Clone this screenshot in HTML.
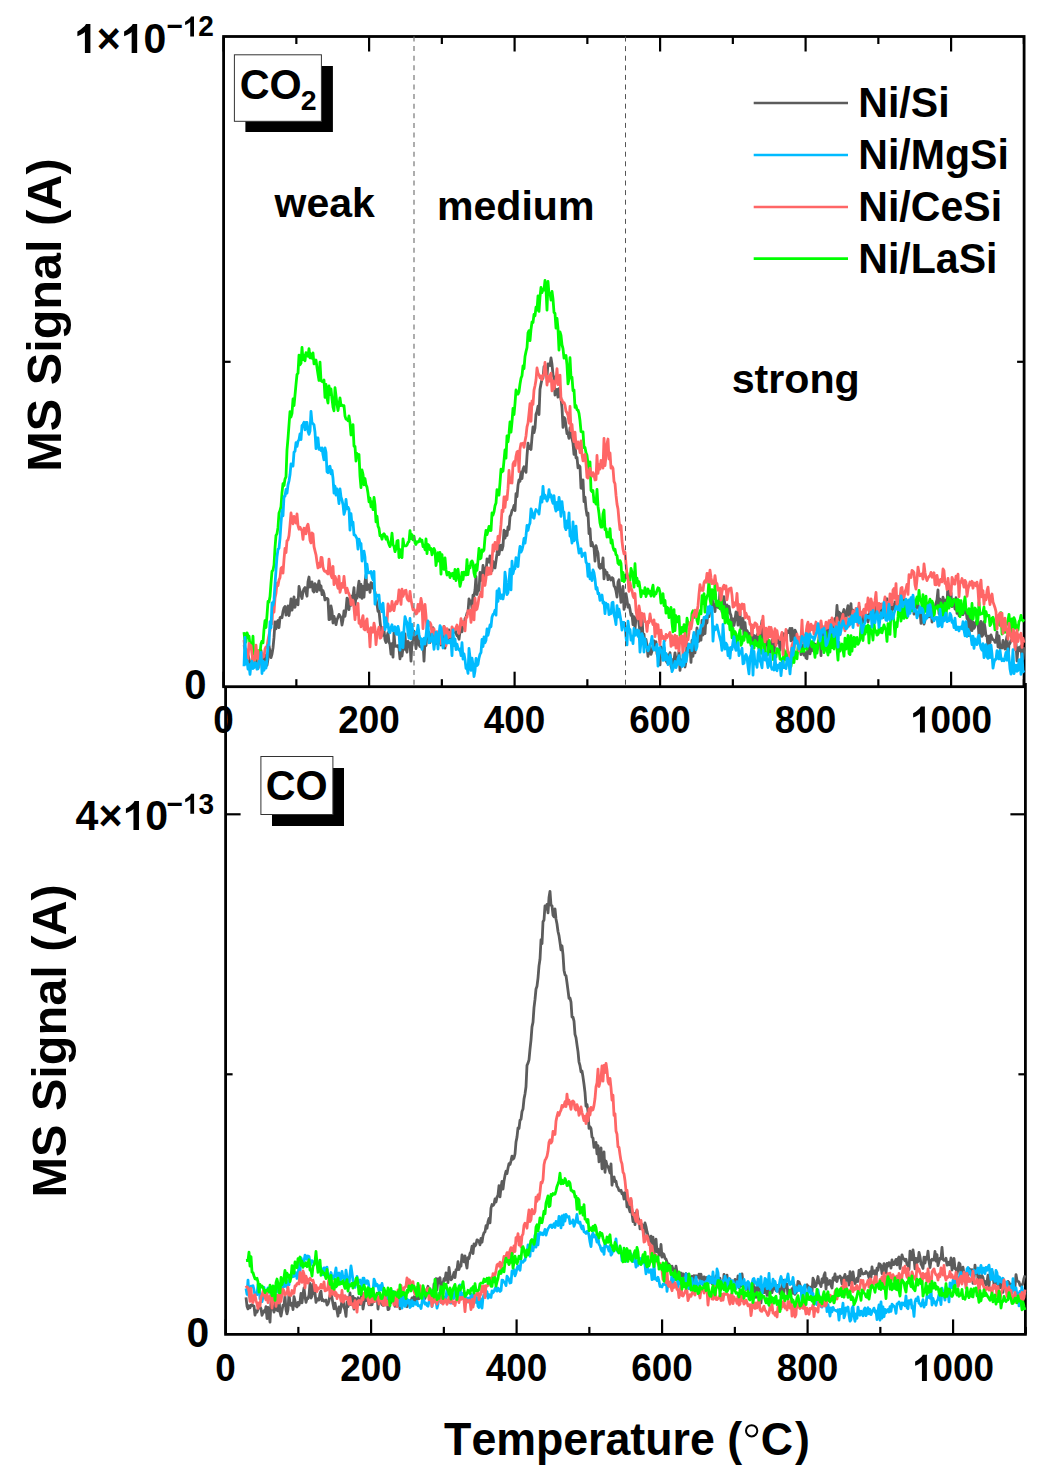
<!DOCTYPE html><html><head><meta charset="utf-8"><style>html,body{margin:0;padding:0;background:#fff;overflow:hidden}svg{display:block}text{font-kerning:none}</style></head><body>
<svg width="1050" height="1481" viewBox="0 0 1050 1481">
<rect width="1050" height="1481" fill="#fff"/>
<g stroke="#000" stroke-width="2.8" fill="none">
<rect x="223.6" y="36.5" width="800.5" height="650.2"/>
<path d="M225.6,686 V1334.4 H1025.4 V683"/>
</g>
<defs><clipPath id="ct"><rect x="222" y="35" width="805" height="653"/></clipPath><clipPath id="cb"><rect x="224" y="686" width="804" height="651"/></clipPath></defs>
<g clip-path="url(#ct)">
<path d="M244.0,645.2 245.0,648.8 246.0,649.7 247.0,657.4 248.0,655.3 249.0,658.7 250.0,664.2 251.0,665.1 252.0,663.5 253.0,658.4 254.0,656.9 255.0,656.8 256.0,659.9 257.0,661.7 258.0,656.0 259.0,655.0 260.0,663.9 261.0,650.5 262.0,660.9 263.0,664.6 264.0,655.9 265.0,655.1 266.0,657.3 267.0,665.4 268.0,658.9 269.0,645.7 270.0,651.8 271.0,657.5 272.0,654.1 273.0,648.0 274.0,637.4 275.0,621.8 276.0,628.8 277.0,622.0 278.0,620.5 279.0,627.7 280.0,617.6 281.0,616.9 282.0,617.7 283.0,611.4 284.0,607.9 285.0,606.5 286.0,615.1 287.0,612.7 288.0,605.9 289.0,615.5 290.0,608.9 291.0,598.8 292.0,610.2 293.0,604.9 294.0,596.8 295.0,607.3 296.0,601.1 297.0,599.8 298.0,604.8 299.0,586.5 300.0,591.1 301.0,595.3 302.0,598.5 303.0,591.8 304.0,588.8 305.0,587.5 306.0,592.3 307.0,596.2 308.0,581.9 309.0,577.0 310.0,587.1 311.0,585.8 312.0,581.9 313.0,590.9 314.0,592.0 315.0,583.6 316.0,585.3 317.0,591.5 318.0,586.0 319.0,580.8 320.0,590.0 321.0,585.9 322.0,594.6 323.0,590.7 324.0,593.8 325.0,599.9 326.0,598.4 327.0,598.3 328.0,599.3 329.0,619.7 330.0,619.2 331.0,606.0 332.0,611.3 333.0,623.0 334.0,616.4 335.0,620.0 336.0,624.6 337.0,619.8 338.0,617.4 339.0,614.4 340.0,615.8 341.0,617.7 342.0,625.0 343.0,619.7 344.0,610.8 345.0,616.4 346.0,609.9 347.0,598.2 348.0,604.8 349.0,609.7 350.0,597.8 351.0,605.4 352.0,595.9 353.0,596.4 354.0,587.6 355.0,606.8 356.0,595.8 357.0,598.2 358.0,588.3 359.0,581.2 360.0,597.0 361.0,584.4 362.0,598.4 363.0,586.5 364.0,597.1 365.0,581.9 366.0,575.0 367.0,589.8 368.0,584.7 369.0,585.0 370.0,592.3 371.0,582.6 372.0,583.3 373.0,587.9 374.0,588.9 375.0,592.2 376.0,599.0 377.0,604.4 378.0,611.3 379.0,610.5 380.0,621.0 381.0,630.4 382.0,628.0 383.0,635.3 384.0,629.9 385.0,639.7 386.0,642.5 387.0,636.9 388.0,632.6 389.0,642.1 390.0,644.3 391.0,654.1 392.0,643.7 393.0,657.1 394.0,632.9 395.0,646.3 396.0,645.6 397.0,646.5 398.0,645.6 399.0,648.6 400.0,658.9 401.0,647.8 402.0,656.1 403.0,648.1 404.0,649.3 405.0,634.0 406.0,649.0 407.0,652.2 408.0,641.4 409.0,644.5 410.0,642.9 411.0,661.1 412.0,642.0 413.0,643.4 414.0,631.1 415.0,637.9 416.0,648.6 417.0,639.3 418.0,629.8 419.0,644.6 420.0,646.6 421.0,647.1 422.0,647.3 423.0,640.8 424.0,661.2 425.0,640.1 426.0,645.7 427.0,634.8 428.0,638.3 429.0,632.3 430.0,642.6 431.0,638.3 432.0,634.2 433.0,627.6 434.0,642.8 435.0,643.9 436.0,643.6 437.0,637.5 438.0,641.8 439.0,642.7 440.0,639.9 441.0,645.2 442.0,635.1 443.0,637.1 444.0,626.3 445.0,648.2 446.0,630.7 447.0,637.1 448.0,638.9 449.0,630.0 450.0,634.6 451.0,638.9 452.0,634.0 453.0,632.6 454.0,632.3 455.0,629.7 456.0,632.8 457.0,635.8 458.0,636.0 459.0,639.2 460.0,631.4 461.0,625.9 462.0,631.8 463.0,625.9 464.0,626.8 465.0,618.6 466.0,617.4 467.0,613.3 468.0,612.2 469.0,598.9 470.0,601.7 471.0,601.2 472.0,608.3 473.0,595.1 474.0,596.1 475.0,590.0 476.0,576.3 477.0,594.5 478.0,588.9 479.0,590.3 480.0,572.4 481.0,580.5 482.0,578.0 483.0,565.5 484.0,576.3 485.0,568.1 486.0,573.3 487.0,558.8 488.0,562.2 489.0,562.1 490.0,555.8 491.0,564.3 492.0,570.8 493.0,561.5 494.0,564.2 495.0,568.0 496.0,560.9 497.0,553.7 498.0,542.5 499.0,554.6 500.0,548.4 501.0,545.2 502.0,549.9 503.0,546.1 504.0,530.1 505.0,538.2 506.0,531.5 507.0,535.5 508.0,526.9 509.0,529.4 510.0,516.4 511.0,514.8 512.0,510.5 513.0,509.3 514.0,505.5 515.0,510.7 516.0,493.7 517.0,496.6 518.0,485.3 519.0,479.8 520.0,481.3 521.0,472.0 522.0,478.6 523.0,469.3 524.0,466.8 525.0,469.3 526.0,472.3 527.0,455.8 528.0,443.1 529.0,448.7 530.0,446.9 531.0,449.5 532.0,437.4 533.0,427.0 534.0,432.6 535.0,427.9 536.0,414.2 537.0,411.4 538.0,406.2 539.0,414.5 540.0,389.2 541.0,383.8 542.0,379.2 543.0,378.0 544.0,366.7 545.0,368.2 546.0,369.3 547.0,376.1 548.0,363.8 549.0,364.0 550.0,365.5 551.0,358.0 552.0,364.3 553.0,374.9 554.0,377.5 555.0,395.1 556.0,389.6 557.0,389.5 558.0,397.2 559.0,388.6 560.0,394.2 561.0,398.6 562.0,407.8 563.0,427.4 564.0,417.3 565.0,418.8 566.0,426.2 567.0,433.7 568.0,433.9 569.0,438.4 570.0,427.9 571.0,432.2 572.0,438.6 573.0,443.3 574.0,454.3 575.0,441.8 576.0,457.9 577.0,457.4 578.0,467.8 579.0,465.5 580.0,466.6 581.0,488.1 582.0,488.3 583.0,479.9 584.0,501.7 585.0,497.2 586.0,508.8 587.0,515.4 588.0,513.1 589.0,533.7 590.0,528.5 591.0,545.9 592.0,542.4 593.0,546.0 594.0,547.7 595.0,561.2 596.0,545.6 597.0,549.8 598.0,553.1 599.0,566.7 600.0,568.3 601.0,564.5 602.0,567.7 603.0,557.8 604.0,578.9 605.0,570.0 606.0,573.6 607.0,572.4 608.0,579.7 609.0,575.6 610.0,578.9 611.0,580.0 612.0,577.6 613.0,578.3 614.0,585.9 615.0,587.3 616.0,591.0 617.0,597.0 618.0,582.0 619.0,579.8 620.0,590.3 621.0,602.3 622.0,595.8 623.0,586.5 624.0,609.4 625.0,604.3 626.0,593.7 627.0,599.6 628.0,607.2 629.0,604.9 630.0,609.4 631.0,615.3 632.0,614.0 633.0,624.6 634.0,616.7 635.0,629.2 636.0,618.4 637.0,617.0 638.0,613.6 639.0,623.7 640.0,632.2 641.0,640.0 642.0,615.1 643.0,638.1 644.0,634.0 645.0,645.7 646.0,639.5 647.0,645.8 648.0,656.3 649.0,647.0 650.0,646.3 651.0,654.4 652.0,651.0 653.0,648.8 654.0,640.8 655.0,649.2 656.0,641.7 657.0,653.7 658.0,656.4 659.0,653.6 660.0,664.9 661.0,646.8 662.0,656.7 663.0,654.6 664.0,647.4 665.0,658.0 666.0,660.4 667.0,662.5 668.0,654.9 669.0,660.2 670.0,652.7 671.0,666.5 672.0,668.9 673.0,659.4 674.0,660.3 675.0,652.8 676.0,659.8 677.0,657.6 678.0,661.4 679.0,651.2 680.0,670.4 681.0,660.0 682.0,664.8 683.0,660.3 684.0,654.4 685.0,667.0 686.0,661.0 687.0,643.9 688.0,651.9 689.0,649.6 690.0,645.1 691.0,662.4 692.0,640.5 693.0,656.3 694.0,635.1 695.0,652.9 696.0,639.8 697.0,627.8 698.0,641.7 699.0,641.2 700.0,630.4 701.0,640.2 702.0,620.4 703.0,635.0 704.0,628.9 705.0,633.6 706.0,617.6 707.0,623.0 708.0,611.0 709.0,616.7 710.0,610.3 711.0,611.1 712.0,596.2 713.0,605.7 714.0,604.4 715.0,611.5 716.0,600.4 717.0,601.9 718.0,607.5 719.0,607.5 720.0,589.4 721.0,604.0 722.0,611.8 723.0,605.2 724.0,596.7 725.0,606.8 726.0,609.7 727.0,604.9 728.0,612.5 729.0,606.3 730.0,612.9 731.0,615.6 732.0,627.0 733.0,619.0 734.0,625.4 735.0,619.6 736.0,611.9 737.0,612.5 738.0,625.2 739.0,611.3 740.0,612.2 741.0,628.6 742.0,619.1 743.0,618.3 744.0,636.9 745.0,622.7 746.0,633.2 747.0,630.6 748.0,632.8 749.0,633.3 750.0,640.2 751.0,643.9 752.0,629.7 753.0,645.6 754.0,635.5 755.0,636.4 756.0,642.2 757.0,635.2 758.0,633.3 759.0,648.8 760.0,636.4 761.0,627.3 762.0,620.6 763.0,643.3 764.0,640.8 765.0,652.8 766.0,635.4 767.0,635.5 768.0,643.5 769.0,651.8 770.0,652.5 771.0,644.1 772.0,640.0 773.0,644.6 774.0,652.6 775.0,642.0 776.0,638.7 777.0,643.1 778.0,640.5 779.0,638.9 780.0,650.1 781.0,640.6 782.0,636.8 783.0,633.6 784.0,633.8 785.0,638.3 786.0,639.4 787.0,630.8 788.0,631.2 789.0,632.6 790.0,628.4 791.0,640.8 792.0,628.5 793.0,635.3 794.0,641.1 795.0,630.2 796.0,632.4 797.0,638.5 798.0,644.3 799.0,644.2 800.0,645.3 801.0,654.5 802.0,645.0 803.0,645.8 804.0,655.1 805.0,652.6 806.0,657.9 807.0,658.7 808.0,644.9 809.0,638.3 810.0,653.9 811.0,649.4 812.0,650.5 813.0,642.2 814.0,651.6 815.0,644.1 816.0,647.8 817.0,648.8 818.0,642.8 819.0,640.5 820.0,635.9 821.0,655.7 822.0,629.8 823.0,641.5 824.0,626.9 825.0,630.1 826.0,642.8 827.0,628.6 828.0,638.6 829.0,628.7 830.0,635.4 831.0,620.3 832.0,621.1 833.0,636.1 834.0,628.1 835.0,618.5 836.0,620.8 837.0,605.5 838.0,619.5 839.0,612.2 840.0,613.4 841.0,627.7 842.0,614.2 843.0,613.0 844.0,609.5 845.0,620.2 846.0,619.3 847.0,610.7 848.0,605.6 849.0,614.6 850.0,616.7 851.0,603.6 852.0,622.9 853.0,610.2 854.0,616.4 855.0,611.0 856.0,611.1 857.0,621.5 858.0,616.4 859.0,606.4 860.0,617.9 861.0,620.8 862.0,614.6 863.0,622.0 864.0,609.4 865.0,620.6 866.0,615.7 867.0,614.9 868.0,621.9 869.0,617.2 870.0,610.5 871.0,615.0 872.0,607.2 873.0,614.1 874.0,618.6 875.0,617.6 876.0,605.5 877.0,608.0 878.0,613.2 879.0,612.6 880.0,604.1 881.0,609.9 882.0,610.7 883.0,617.5 884.0,609.3 885.0,607.2 886.0,600.7 887.0,598.7 888.0,612.7 889.0,607.1 890.0,603.6 891.0,612.1 892.0,608.8 893.0,604.7 894.0,609.3 895.0,601.8 896.0,608.1 897.0,605.3 898.0,599.7 899.0,599.3 900.0,596.5 901.0,606.1 902.0,599.4 903.0,593.6 904.0,604.3 905.0,603.1 906.0,601.0 907.0,603.3 908.0,601.0 909.0,601.1 910.0,611.3 911.0,600.1 912.0,598.3 913.0,600.1 914.0,614.1 915.0,602.6 916.0,608.0 917.0,605.6 918.0,604.2 919.0,609.8 920.0,610.3 921.0,623.4 922.0,609.5 923.0,613.3 924.0,624.2 925.0,620.5 926.0,615.6 927.0,617.3 928.0,611.5 929.0,616.8 930.0,613.2 931.0,606.4 932.0,622.0 933.0,611.2 934.0,614.6 935.0,607.8 936.0,603.3 937.0,599.7 938.0,590.0 939.0,613.8 940.0,599.1 941.0,605.9 942.0,608.0 943.0,597.2 944.0,601.4 945.0,605.1 946.0,599.8 947.0,603.7 948.0,583.4 949.0,603.6 950.0,605.7 951.0,592.8 952.0,606.7 953.0,600.7 954.0,602.8 955.0,609.0 956.0,597.7 957.0,613.3 958.0,605.1 959.0,615.5 960.0,611.3 961.0,614.5 962.0,608.8 963.0,614.7 964.0,608.8 965.0,612.8 966.0,609.4 967.0,618.7 968.0,614.0 969.0,635.6 970.0,616.6 971.0,609.6 972.0,630.6 973.0,622.2 974.0,628.3 975.0,626.3 976.0,621.7 977.0,623.5 978.0,621.1 979.0,637.2 980.0,633.1 981.0,621.5 982.0,636.3 983.0,634.6 984.0,621.6 985.0,627.4 986.0,635.8 987.0,635.9 988.0,647.8 989.0,636.1 990.0,642.9 991.0,635.0 992.0,638.1 993.0,639.7 994.0,640.0 995.0,642.3 996.0,642.1 997.0,632.0 998.0,646.8 999.0,635.8 1000.0,648.3 1001.0,647.5 1002.0,648.1 1003.0,640.4 1004.0,646.2 1005.0,649.1 1006.0,641.7 1007.0,636.2 1008.0,656.3 1009.0,644.6 1010.0,643.3 1011.0,640.6 1012.0,639.5 1013.0,630.9 1014.0,641.2 1015.0,641.5 1016.0,643.2 1017.0,661.0 1018.0,648.7 1019.0,647.4 1020.0,650.7 1021.0,645.8 1022.0,659.1 1023.0,659.1 1024.0,647.2" fill="none" stroke="#5c5c5c" stroke-width="2.8" stroke-linejoin="round"/>
<path d="M244.0,632.2 245.0,641.6 246.0,642.0 247.0,632.8 248.0,635.7 249.0,636.0 250.0,644.6 251.0,642.7 252.0,649.6 253.0,636.2 254.0,660.7 255.0,653.2 256.0,659.2 257.0,653.6 258.0,650.6 259.0,653.6 260.0,653.1 261.0,643.8 262.0,641.1 263.0,642.9 264.0,629.3 265.0,620.7 266.0,627.5 267.0,615.3 268.0,601.5 269.0,602.0 270.0,596.6 271.0,583.2 272.0,571.3 273.0,570.3 274.0,565.0 275.0,547.8 276.0,535.4 277.0,533.8 278.0,527.4 279.0,513.0 280.0,510.5 281.0,506.5 282.0,492.6 283.0,483.6 284.0,485.6 285.0,479.0 286.0,476.8 287.0,449.8 288.0,438.3 289.0,424.8 290.0,411.6 291.0,417.0 292.0,413.3 293.0,399.0 294.0,405.7 295.0,395.1 296.0,384.3 297.0,374.5 298.0,373.1 299.0,355.1 300.0,364.8 301.0,363.3 302.0,347.4 303.0,359.6 304.0,355.1 305.0,360.8 306.0,352.6 307.0,354.6 308.0,356.3 309.0,348.6 310.0,357.9 311.0,354.0 312.0,358.3 313.0,352.8 314.0,363.9 315.0,362.6 316.0,360.0 317.0,367.6 318.0,374.3 319.0,380.4 320.0,362.2 321.0,380.5 322.0,381.5 323.0,381.9 324.0,380.0 325.0,397.4 326.0,384.5 327.0,397.5 328.0,403.0 329.0,385.8 330.0,394.5 331.0,388.8 332.0,398.9 333.0,407.2 334.0,410.8 335.0,387.7 336.0,395.7 337.0,404.4 338.0,410.6 339.0,404.2 340.0,397.9 341.0,405.5 342.0,404.9 343.0,405.9 344.0,405.7 345.0,416.1 346.0,419.1 347.0,419.4 348.0,420.8 349.0,415.9 350.0,422.6 351.0,435.0 352.0,428.8 353.0,424.6 354.0,446.3 355.0,446.3 356.0,461.1 357.0,453.5 358.0,455.6 359.0,454.6 360.0,476.2 361.0,487.6 362.0,470.0 363.0,474.2 364.0,484.8 365.0,478.7 366.0,484.9 367.0,487.1 368.0,493.3 369.0,501.8 370.0,498.2 371.0,506.9 372.0,501.8 373.0,509.6 374.0,497.5 375.0,504.9 376.0,521.8 377.0,516.1 378.0,526.1 379.0,528.4 380.0,535.7 381.0,535.2 382.0,539.2 383.0,534.8 384.0,533.7 385.0,535.7 386.0,539.2 387.0,536.7 388.0,541.3 389.0,544.4 390.0,546.6 391.0,542.9 392.0,533.1 393.0,544.6 394.0,546.4 395.0,551.7 396.0,548.6 397.0,541.0 398.0,540.5 399.0,557.5 400.0,549.6 401.0,556.1 402.0,557.6 403.0,538.9 404.0,545.8 405.0,545.7 406.0,545.8 407.0,545.1 408.0,542.4 409.0,541.6 410.0,530.7 411.0,538.6 412.0,534.7 413.0,539.9 414.0,536.1 415.0,542.9 416.0,544.4 417.0,541.6 418.0,542.2 419.0,541.5 420.0,538.8 421.0,541.4 422.0,540.2 423.0,546.6 424.0,545.3 425.0,549.8 426.0,538.9 427.0,553.7 428.0,544.4 429.0,545.4 430.0,549.7 431.0,548.4 432.0,554.8 433.0,550.5 434.0,548.5 435.0,551.1 436.0,565.6 437.0,558.9 438.0,552.6 439.0,561.0 440.0,552.4 441.0,574.2 442.0,554.6 443.0,568.0 444.0,569.3 445.0,557.9 446.0,569.7 447.0,575.0 448.0,572.7 449.0,572.4 450.0,577.6 451.0,573.6 452.0,575.5 453.0,573.3 454.0,578.7 455.0,569.4 456.0,580.6 457.0,572.8 458.0,569.2 459.0,578.2 460.0,586.4 461.0,581.7 462.0,572.3 463.0,579.6 464.0,572.2 465.0,573.9 466.0,574.9 467.0,559.6 468.0,574.7 469.0,566.6 470.0,567.9 471.0,562.2 472.0,560.9 473.0,563.3 474.0,573.0 475.0,576.9 476.0,564.9 477.0,570.3 478.0,560.4 479.0,548.3 480.0,558.9 481.0,558.2 482.0,549.9 483.0,551.4 484.0,549.9 485.0,537.6 486.0,530.3 487.0,534.6 488.0,531.1 489.0,526.3 490.0,530.4 491.0,530.6 492.0,512.8 493.0,515.1 494.0,511.9 495.0,505.8 496.0,503.1 497.0,489.6 498.0,491.9 499.0,495.2 500.0,482.8 501.0,469.2 502.0,471.9 503.0,471.0 504.0,460.6 505.0,449.9 506.0,458.1 507.0,435.9 508.0,441.9 509.0,433.9 510.0,421.9 511.0,432.2 512.0,422.2 513.0,408.3 514.0,414.7 515.0,403.7 516.0,390.0 517.0,392.9 518.0,394.2 519.0,391.7 520.0,384.0 521.0,378.3 522.0,375.7 523.0,365.8 524.0,368.7 525.0,356.5 526.0,351.6 527.0,347.7 528.0,332.8 529.0,330.6 530.0,340.5 531.0,329.4 532.0,322.0 533.0,322.6 534.0,314.3 535.0,315.9 536.0,307.1 537.0,310.1 538.0,295.9 539.0,311.3 540.0,297.0 541.0,287.3 542.0,292.7 543.0,289.1 544.0,290.0 545.0,280.5 546.0,289.5 547.0,310.1 548.0,281.5 549.0,294.1 550.0,293.3 551.0,300.0 552.0,291.3 553.0,298.9 554.0,312.5 555.0,313.4 556.0,328.2 557.0,318.3 558.0,328.5 559.0,350.2 560.0,332.0 561.0,335.4 562.0,344.8 563.0,348.7 564.0,358.0 565.0,357.3 566.0,355.5 567.0,365.2 568.0,383.9 569.0,379.1 570.0,357.7 571.0,377.9 572.0,377.3 573.0,390.7 574.0,389.9 575.0,407.3 576.0,405.5 577.0,409.8 578.0,410.0 579.0,413.4 580.0,420.6 581.0,431.5 582.0,432.0 583.0,431.8 584.0,447.7 585.0,447.5 586.0,452.7 587.0,455.3 588.0,463.5 589.0,469.5 590.0,461.9 591.0,490.3 592.0,491.6 593.0,490.5 594.0,501.9 595.0,501.4 596.0,504.1 597.0,489.4 598.0,506.2 599.0,513.6 600.0,523.0 601.0,527.1 602.0,527.2 603.0,513.8 604.0,510.0 605.0,529.7 606.0,528.8 607.0,537.0 608.0,532.6 609.0,537.0 610.0,528.6 611.0,543.0 612.0,539.8 613.0,547.1 614.0,550.3 615.0,549.3 616.0,554.7 617.0,555.5 618.0,563.2 619.0,564.4 620.0,560.6 621.0,563.2 622.0,580.7 623.0,572.3 624.0,581.7 625.0,579.8 626.0,574.5 627.0,573.2 628.0,578.2 629.0,578.6 630.0,580.3 631.0,568.3 632.0,572.3 633.0,575.7 634.0,587.1 635.0,563.7 636.0,582.6 637.0,578.2 638.0,585.9 639.0,581.7 640.0,588.3 641.0,596.9 642.0,590.7 643.0,592.5 644.0,593.4 645.0,587.6 646.0,596.5 647.0,592.5 648.0,589.0 649.0,593.4 650.0,591.3 651.0,596.1 652.0,589.7 653.0,585.2 654.0,596.3 655.0,592.5 656.0,593.9 657.0,590.5 658.0,587.8 659.0,588.5 660.0,592.4 661.0,603.1 662.0,600.7 663.0,593.6 664.0,605.7 665.0,600.4 666.0,613.2 667.0,607.1 668.0,608.2 669.0,617.5 670.0,616.8 671.0,607.4 672.0,622.7 673.0,631.8 674.0,609.6 675.0,630.6 676.0,615.7 677.0,618.1 678.0,622.0 679.0,616.4 680.0,635.8 681.0,633.2 682.0,627.4 683.0,631.8 684.0,624.6 685.0,631.2 686.0,637.3 687.0,618.2 688.0,623.1 689.0,623.6 690.0,626.2 691.0,625.8 692.0,613.2 693.0,610.7 694.0,617.6 695.0,612.1 696.0,612.1 697.0,620.4 698.0,623.8 699.0,614.4 700.0,610.8 701.0,613.8 702.0,595.6 703.0,603.6 704.0,593.6 705.0,612.2 706.0,600.5 707.0,596.4 708.0,593.9 709.0,579.2 710.0,598.9 711.0,604.4 712.0,589.6 713.0,598.3 714.0,598.5 715.0,584.9 716.0,601.5 717.0,605.9 718.0,601.1 719.0,601.5 720.0,608.9 721.0,596.6 722.0,609.2 723.0,617.9 724.0,606.4 725.0,623.0 726.0,616.9 727.0,609.0 728.0,623.3 729.0,619.9 730.0,629.8 731.0,622.3 732.0,637.8 733.0,628.3 734.0,636.4 735.0,631.6 736.0,634.0 737.0,643.9 738.0,638.3 739.0,634.9 740.0,630.0 741.0,645.3 742.0,642.9 743.0,636.6 744.0,640.4 745.0,632.7 746.0,633.1 747.0,634.6 748.0,642.2 749.0,642.2 750.0,636.0 751.0,645.5 752.0,646.1 753.0,642.6 754.0,648.3 755.0,640.4 756.0,641.8 757.0,645.7 758.0,643.0 759.0,648.5 760.0,636.2 761.0,653.3 762.0,640.2 763.0,644.7 764.0,637.8 765.0,650.8 766.0,655.7 767.0,655.2 768.0,654.5 769.0,640.4 770.0,645.9 771.0,648.5 772.0,646.2 773.0,659.5 774.0,654.2 775.0,653.5 776.0,657.1 777.0,648.7 778.0,649.5 779.0,650.1 780.0,659.1 781.0,658.6 782.0,660.6 783.0,664.2 784.0,649.6 785.0,655.1 786.0,659.9 787.0,651.1 788.0,656.4 789.0,666.2 790.0,666.8 791.0,666.3 792.0,659.0 793.0,656.1 794.0,662.5 795.0,651.7 796.0,654.3 797.0,658.8 798.0,647.0 799.0,644.6 800.0,647.9 801.0,651.7 802.0,651.0 803.0,649.0 804.0,651.4 805.0,638.1 806.0,642.7 807.0,649.0 808.0,642.2 809.0,639.7 810.0,640.5 811.0,642.3 812.0,646.9 813.0,641.5 814.0,648.8 815.0,657.3 816.0,645.1 817.0,653.2 818.0,646.4 819.0,637.2 820.0,642.4 821.0,638.0 822.0,648.9 823.0,637.2 824.0,652.7 825.0,648.3 826.0,632.5 827.0,650.1 828.0,655.1 829.0,640.8 830.0,652.0 831.0,634.8 832.0,647.6 833.0,635.7 834.0,649.0 835.0,634.9 836.0,629.7 837.0,648.5 838.0,660.2 839.0,642.3 840.0,651.1 841.0,646.7 842.0,644.0 843.0,649.8 844.0,656.2 845.0,638.2 846.0,649.0 847.0,647.1 848.0,635.5 849.0,653.5 850.0,654.6 851.0,635.6 852.0,651.2 853.0,639.7 854.0,637.3 855.0,646.6 856.0,637.8 857.0,637.5 858.0,644.3 859.0,642.3 860.0,639.5 861.0,625.1 862.0,623.9 863.0,640.5 864.0,627.6 865.0,634.2 866.0,626.5 867.0,631.9 868.0,625.0 869.0,643.0 870.0,626.5 871.0,631.9 872.0,631.4 873.0,640.0 874.0,623.5 875.0,632.0 876.0,630.7 877.0,635.1 878.0,634.4 879.0,628.3 880.0,632.3 881.0,628.1 882.0,632.8 883.0,628.8 884.0,624.9 885.0,628.2 886.0,630.1 887.0,641.3 888.0,623.6 889.0,627.9 890.0,634.4 891.0,611.8 892.0,613.2 893.0,615.9 894.0,621.7 895.0,636.6 896.0,622.9 897.0,626.9 898.0,616.9 899.0,601.9 900.0,601.6 901.0,621.1 902.0,614.8 903.0,604.5 904.0,618.4 905.0,600.9 906.0,616.6 907.0,617.7 908.0,603.3 909.0,600.5 910.0,611.9 911.0,599.2 912.0,610.6 913.0,597.2 914.0,609.0 915.0,604.0 916.0,600.3 917.0,597.0 918.0,603.7 919.0,590.3 920.0,600.3 921.0,599.6 922.0,606.4 923.0,594.6 924.0,613.2 925.0,601.0 926.0,596.2 927.0,612.2 928.0,614.3 929.0,603.2 930.0,599.2 931.0,605.2 932.0,601.1 933.0,603.7 934.0,615.5 935.0,608.4 936.0,606.9 937.0,608.1 938.0,605.5 939.0,610.9 940.0,610.9 941.0,603.0 942.0,605.7 943.0,619.7 944.0,607.1 945.0,603.2 946.0,616.9 947.0,604.1 948.0,597.2 949.0,608.2 950.0,598.4 951.0,600.9 952.0,606.0 953.0,603.2 954.0,599.3 955.0,600.6 956.0,600.3 957.0,611.2 958.0,599.5 959.0,600.5 960.0,616.6 961.0,600.6 962.0,613.5 963.0,612.8 964.0,604.2 965.0,596.8 966.0,609.1 967.0,611.1 968.0,613.6 969.0,608.7 970.0,616.3 971.0,618.1 972.0,603.5 973.0,619.4 974.0,612.1 975.0,608.0 976.0,610.0 977.0,624.1 978.0,619.0 979.0,602.3 980.0,614.4 981.0,613.5 982.0,613.8 983.0,612.3 984.0,607.0 985.0,622.0 986.0,611.6 987.0,615.9 988.0,615.4 989.0,615.5 990.0,625.5 991.0,624.1 992.0,618.3 993.0,617.2 994.0,620.7 995.0,629.9 996.0,624.8 997.0,625.4 998.0,622.0 999.0,622.4 1000.0,625.3 1001.0,612.6 1002.0,634.0 1003.0,619.1 1004.0,620.5 1005.0,632.3 1006.0,625.4 1007.0,624.3 1008.0,620.4 1009.0,614.3 1010.0,625.2 1011.0,631.6 1012.0,618.8 1013.0,633.0 1014.0,617.7 1015.0,620.4 1016.0,628.4 1017.0,625.5 1018.0,630.1 1019.0,621.5 1020.0,620.1 1021.0,615.3 1022.0,619.8 1023.0,620.9 1024.0,619.2" fill="none" stroke="#00ff00" stroke-width="2.8" stroke-linejoin="round"/>
<path d="M244.0,640.0 245.0,649.0 246.0,649.4 247.0,651.5 248.0,659.0 249.0,643.3 250.0,648.5 251.0,645.5 252.0,654.2 253.0,662.0 254.0,656.3 255.0,659.9 256.0,645.2 257.0,657.8 258.0,651.1 259.0,667.3 260.0,661.3 261.0,661.0 262.0,653.9 263.0,657.2 264.0,656.4 265.0,649.1 266.0,646.9 267.0,647.0 268.0,640.0 269.0,634.9 270.0,630.7 271.0,621.3 272.0,623.8 273.0,602.8 274.0,612.1 275.0,597.9 276.0,593.3 277.0,583.2 278.0,585.6 279.0,579.9 280.0,577.7 281.0,568.2 282.0,567.2 283.0,573.1 284.0,559.5 285.0,548.5 286.0,552.6 287.0,540.6 288.0,540.0 289.0,535.6 290.0,525.5 291.0,513.0 292.0,520.5 293.0,523.9 294.0,516.4 295.0,520.2 296.0,523.1 297.0,513.9 298.0,525.6 299.0,529.2 300.0,527.2 301.0,529.3 302.0,530.5 303.0,539.4 304.0,528.2 305.0,528.6 306.0,533.9 307.0,526.3 308.0,524.2 309.0,530.3 310.0,540.2 311.0,542.9 312.0,533.0 313.0,533.8 314.0,546.7 315.0,550.8 316.0,554.8 317.0,562.1 318.0,567.9 319.0,563.4 320.0,567.0 321.0,557.3 322.0,557.6 323.0,567.1 324.0,570.4 325.0,571.4 326.0,571.2 327.0,573.1 328.0,574.1 329.0,559.1 330.0,566.6 331.0,575.3 332.0,577.7 333.0,566.3 334.0,584.6 335.0,576.3 336.0,579.2 337.0,583.9 338.0,588.3 339.0,576.1 340.0,592.3 341.0,587.6 342.0,583.3 343.0,587.3 344.0,576.3 345.0,586.7 346.0,592.8 347.0,588.2 348.0,591.7 349.0,594.1 350.0,596.8 351.0,604.6 352.0,600.0 353.0,600.7 354.0,607.9 355.0,619.6 356.0,606.9 357.0,614.3 358.0,603.4 359.0,623.3 360.0,620.8 361.0,626.8 362.0,619.9 363.0,615.6 364.0,629.2 365.0,630.0 366.0,621.4 367.0,618.9 368.0,631.9 369.0,628.9 370.0,646.9 371.0,627.7 372.0,628.9 373.0,632.2 374.0,623.1 375.0,628.4 376.0,644.6 377.0,633.9 378.0,631.2 379.0,627.1 380.0,638.2 381.0,637.6 382.0,633.5 383.0,627.4 384.0,629.3 385.0,627.1 386.0,617.9 387.0,623.4 388.0,604.0 389.0,607.0 390.0,611.1 391.0,610.1 392.0,601.3 393.0,608.3 394.0,610.6 395.0,604.8 396.0,601.6 397.0,603.8 398.0,600.1 399.0,589.9 400.0,595.4 401.0,604.4 402.0,589.1 403.0,596.4 404.0,593.6 405.0,590.6 406.0,590.3 407.0,597.9 408.0,600.1 409.0,601.1 410.0,591.4 411.0,599.8 412.0,604.9 413.0,609.8 414.0,609.2 415.0,611.2 416.0,614.0 417.0,613.4 418.0,604.4 419.0,611.1 420.0,607.5 421.0,598.5 422.0,604.1 423.0,628.7 424.0,610.1 425.0,604.4 426.0,615.9 427.0,630.1 428.0,621.6 429.0,625.5 430.0,622.5 431.0,624.9 432.0,634.5 433.0,632.9 434.0,628.8 435.0,636.2 436.0,638.6 437.0,631.7 438.0,635.8 439.0,636.7 440.0,631.8 441.0,643.6 442.0,635.8 443.0,633.2 444.0,626.5 445.0,628.8 446.0,645.7 447.0,628.7 448.0,637.8 449.0,632.1 450.0,636.7 451.0,636.4 452.0,626.9 453.0,629.0 454.0,630.4 455.0,629.5 456.0,627.7 457.0,625.0 458.0,629.9 459.0,633.3 460.0,627.6 461.0,618.7 462.0,624.9 463.0,621.8 464.0,623.3 465.0,630.9 466.0,617.1 467.0,617.2 468.0,610.7 469.0,613.2 470.0,610.2 471.0,622.3 472.0,612.9 473.0,606.0 474.0,619.9 475.0,598.1 476.0,609.9 477.0,609.0 478.0,604.3 479.0,597.1 480.0,595.8 481.0,592.2 482.0,596.9 483.0,575.2 484.0,583.9 485.0,585.4 486.0,578.2 487.0,567.7 488.0,574.5 489.0,568.0 490.0,574.0 491.0,573.8 492.0,561.5 493.0,544.8 494.0,551.2 495.0,542.3 496.0,547.7 497.0,549.4 498.0,536.4 499.0,542.6 500.0,534.8 501.0,524.9 502.0,510.2 503.0,511.7 504.0,497.0 505.0,507.3 506.0,496.6 507.0,499.6 508.0,488.4 509.0,470.5 510.0,482.9 511.0,481.4 512.0,483.0 513.0,464.0 514.0,461.7 515.0,465.5 516.0,456.2 517.0,451.9 518.0,451.2 519.0,471.6 520.0,448.9 521.0,443.6 522.0,443.9 523.0,443.2 524.0,447.4 525.0,441.2 526.0,435.9 527.0,426.9 528.0,423.1 529.0,413.6 530.0,403.7 531.0,421.3 532.0,400.9 533.0,404.4 534.0,390.1 535.0,385.7 536.0,380.0 537.0,368.0 538.0,373.2 539.0,374.9 540.0,377.8 541.0,376.0 542.0,379.6 543.0,375.5 544.0,374.1 545.0,362.4 546.0,371.6 547.0,385.0 548.0,376.6 549.0,381.3 550.0,375.6 551.0,373.3 552.0,390.8 553.0,381.0 554.0,388.9 555.0,383.8 556.0,379.6 557.0,368.6 558.0,384.6 559.0,376.5 560.0,375.2 561.0,399.8 562.0,399.9 563.0,402.9 564.0,402.6 565.0,405.3 566.0,411.2 567.0,412.8 568.0,415.5 569.0,423.0 570.0,406.5 571.0,430.6 572.0,424.4 573.0,436.8 574.0,441.7 575.0,432.2 576.0,445.3 577.0,448.2 578.0,441.9 579.0,445.8 580.0,452.6 581.0,440.8 582.0,454.5 583.0,460.9 584.0,459.3 585.0,454.3 586.0,463.6 587.0,477.3 588.0,478.0 589.0,470.9 590.0,468.3 591.0,474.7 592.0,476.1 593.0,472.6 594.0,475.0 595.0,480.0 596.0,479.6 597.0,455.5 598.0,473.3 599.0,465.0 600.0,469.2 601.0,460.5 602.0,461.9 603.0,468.0 604.0,438.3 605.0,465.7 606.0,456.4 607.0,443.7 608.0,439.0 609.0,459.0 610.0,452.9 611.0,468.2 612.0,466.4 613.0,468.3 614.0,481.4 615.0,483.7 616.0,495.2 617.0,504.1 618.0,509.0 619.0,520.3 620.0,529.5 621.0,525.5 622.0,541.0 623.0,549.3 624.0,553.9 625.0,552.2 626.0,564.0 627.0,574.7 628.0,578.7 629.0,591.4 630.0,582.5 631.0,587.6 632.0,590.5 633.0,595.8 634.0,597.8 635.0,593.5 636.0,610.3 637.0,616.7 638.0,619.0 639.0,606.0 640.0,612.1 641.0,625.3 642.0,613.5 643.0,616.6 644.0,613.9 645.0,621.6 646.0,622.0 647.0,631.4 648.0,621.4 649.0,622.6 650.0,614.0 651.0,620.8 652.0,620.7 653.0,624.6 654.0,619.9 655.0,636.7 656.0,623.8 657.0,633.2 658.0,624.7 659.0,635.7 660.0,644.7 661.0,630.2 662.0,638.3 663.0,636.2 664.0,639.0 665.0,640.5 666.0,634.4 667.0,637.7 668.0,635.6 669.0,634.6 670.0,632.4 671.0,646.3 672.0,636.0 673.0,645.0 674.0,644.6 675.0,635.2 676.0,648.1 677.0,636.4 678.0,645.8 679.0,651.0 680.0,637.6 681.0,636.2 682.0,636.0 683.0,655.9 684.0,639.1 685.0,633.3 686.0,645.9 687.0,639.3 688.0,639.8 689.0,632.7 690.0,622.7 691.0,628.8 692.0,622.9 693.0,615.0 694.0,613.8 695.0,610.2 696.0,616.9 697.0,611.9 698.0,605.7 699.0,594.0 700.0,584.6 701.0,590.3 702.0,588.8 703.0,590.5 704.0,582.6 705.0,580.6 706.0,582.2 707.0,573.5 708.0,573.6 709.0,582.1 710.0,570.1 711.0,577.7 712.0,583.7 713.0,581.3 714.0,583.8 715.0,575.6 716.0,583.1 717.0,583.6 718.0,590.2 719.0,590.0 720.0,588.2 721.0,600.1 722.0,592.0 723.0,587.1 724.0,585.2 725.0,589.0 726.0,585.9 727.0,599.9 728.0,593.6 729.0,589.0 730.0,588.4 731.0,587.9 732.0,595.1 733.0,607.2 734.0,606.5 735.0,602.7 736.0,605.0 737.0,593.3 738.0,610.1 739.0,604.4 740.0,614.7 741.0,605.4 742.0,604.0 743.0,608.8 744.0,604.3 745.0,617.8 746.0,613.2 747.0,616.1 748.0,618.5 749.0,616.9 750.0,624.4 751.0,624.3 752.0,635.2 753.0,625.2 754.0,627.6 755.0,622.9 756.0,623.7 757.0,624.5 758.0,634.7 759.0,627.4 760.0,633.2 761.0,625.8 762.0,625.5 763.0,616.2 764.0,633.7 765.0,641.8 766.0,628.2 767.0,639.1 768.0,636.1 769.0,627.2 770.0,636.9 771.0,627.3 772.0,631.8 773.0,641.9 774.0,636.1 775.0,628.6 776.0,645.4 777.0,630.6 778.0,637.4 779.0,637.3 780.0,639.5 781.0,636.3 782.0,632.4 783.0,654.8 784.0,638.2 785.0,639.0 786.0,629.5 787.0,645.1 788.0,652.4 789.0,652.8 790.0,660.9 791.0,652.6 792.0,645.3 793.0,642.5 794.0,650.6 795.0,641.0 796.0,641.9 797.0,634.1 798.0,639.8 799.0,650.5 800.0,636.8 801.0,638.6 802.0,620.2 803.0,642.4 804.0,635.3 805.0,640.9 806.0,632.9 807.0,625.6 808.0,622.1 809.0,633.5 810.0,630.1 811.0,624.1 812.0,629.6 813.0,625.9 814.0,634.2 815.0,627.1 816.0,622.0 817.0,628.9 818.0,625.9 819.0,638.4 820.0,626.2 821.0,620.8 822.0,628.5 823.0,627.2 824.0,630.3 825.0,629.9 826.0,622.1 827.0,628.0 828.0,627.6 829.0,620.7 830.0,624.5 831.0,629.1 832.0,617.9 833.0,620.8 834.0,624.4 835.0,626.5 836.0,629.9 837.0,618.0 838.0,627.9 839.0,629.5 840.0,634.8 841.0,622.2 842.0,618.7 843.0,614.4 844.0,626.9 845.0,630.9 846.0,618.1 847.0,624.4 848.0,626.3 849.0,626.1 850.0,616.8 851.0,622.4 852.0,617.3 853.0,610.9 854.0,617.6 855.0,617.4 856.0,608.4 857.0,616.4 858.0,625.4 859.0,603.2 860.0,616.4 861.0,617.4 862.0,611.8 863.0,613.2 864.0,609.3 865.0,619.1 866.0,604.6 867.0,609.4 868.0,598.0 869.0,611.8 870.0,611.8 871.0,598.9 872.0,603.7 873.0,611.7 874.0,605.4 875.0,600.7 876.0,592.3 877.0,609.5 878.0,618.9 879.0,603.5 880.0,608.4 881.0,607.7 882.0,603.9 883.0,604.4 884.0,603.8 885.0,596.9 886.0,617.1 887.0,617.8 888.0,602.1 889.0,610.6 890.0,593.8 891.0,596.8 892.0,604.7 893.0,590.0 894.0,588.6 895.0,598.4 896.0,583.6 897.0,606.1 898.0,599.7 899.0,596.2 900.0,598.4 901.0,588.1 902.0,587.4 903.0,597.8 904.0,597.7 905.0,591.8 906.0,589.1 907.0,584.3 908.0,594.4 909.0,574.7 910.0,576.9 911.0,577.5 912.0,570.5 913.0,571.2 914.0,572.5 915.0,584.7 916.0,589.1 917.0,579.7 918.0,567.1 919.0,573.0 920.0,575.7 921.0,574.6 922.0,573.8 923.0,579.2 924.0,564.0 925.0,572.4 926.0,577.4 927.0,580.6 928.0,578.0 929.0,576.4 930.0,575.6 931.0,572.4 932.0,577.3 933.0,575.6 934.0,572.7 935.0,584.7 936.0,584.8 937.0,575.3 938.0,581.6 939.0,585.4 940.0,579.9 941.0,579.2 942.0,581.9 943.0,569.0 944.0,570.8 945.0,583.3 946.0,582.3 947.0,589.5 948.0,578.3 949.0,588.6 950.0,588.6 951.0,594.4 952.0,577.3 953.0,580.1 954.0,584.0 955.0,584.0 956.0,576.1 957.0,578.8 958.0,574.2 959.0,596.6 960.0,581.9 961.0,582.3 962.0,578.5 963.0,582.5 964.0,587.2 965.0,580.3 966.0,582.4 967.0,596.4 968.0,589.2 969.0,585.4 970.0,582.0 971.0,585.1 972.0,581.3 973.0,588.2 974.0,583.0 975.0,583.2 976.0,585.7 977.0,582.1 978.0,590.3 979.0,605.1 980.0,586.1 981.0,580.1 982.0,596.8 983.0,590.7 984.0,604.3 985.0,595.3 986.0,599.8 987.0,590.6 988.0,587.1 989.0,597.5 990.0,604.5 991.0,596.8 992.0,594.0 993.0,601.9 994.0,604.8 995.0,607.7 996.0,611.6 997.0,628.8 998.0,616.2 999.0,614.9 1000.0,612.9 1001.0,626.2 1002.0,613.1 1003.0,633.4 1004.0,626.0 1005.0,618.2 1006.0,630.1 1007.0,629.6 1008.0,639.2 1009.0,623.5 1010.0,635.1 1011.0,634.7 1012.0,641.2 1013.0,629.3 1014.0,632.2 1015.0,649.8 1016.0,641.8 1017.0,629.8 1018.0,641.5 1019.0,635.2 1020.0,636.2 1021.0,633.3 1022.0,647.3 1023.0,638.1 1024.0,642.8" fill="none" stroke="#ff6666" stroke-width="2.8" stroke-linejoin="round"/>
<path d="M244.0,666.3 245.0,637.5 246.0,664.1 247.0,660.0 248.0,669.1 249.0,664.5 250.0,674.4 251.0,664.1 252.0,661.3 253.0,668.5 254.0,667.7 255.0,662.8 256.0,663.3 257.0,669.2 258.0,668.9 259.0,661.2 260.0,661.6 261.0,652.3 262.0,673.5 263.0,661.2 264.0,670.3 265.0,662.7 266.0,668.1 267.0,659.7 268.0,645.2 269.0,644.7 270.0,621.7 271.0,627.8 272.0,602.9 273.0,605.2 274.0,599.9 275.0,584.3 276.0,570.1 277.0,556.7 278.0,549.3 279.0,548.2 280.0,538.3 281.0,523.4 282.0,510.4 283.0,515.8 284.0,496.4 285.0,496.3 286.0,489.4 287.0,493.2 288.0,484.8 289.0,481.0 290.0,474.8 291.0,463.8 292.0,466.1 293.0,466.2 294.0,452.1 295.0,451.4 296.0,442.6 297.0,446.4 298.0,441.3 299.0,439.8 300.0,433.9 301.0,439.6 302.0,425.4 303.0,424.4 304.0,422.3 305.0,429.8 306.0,422.3 307.0,422.4 308.0,431.2 309.0,434.3 310.0,431.1 311.0,411.4 312.0,422.9 313.0,423.7 314.0,424.9 315.0,432.2 316.0,448.6 317.0,438.0 318.0,438.0 319.0,449.3 320.0,447.8 321.0,450.5 322.0,447.9 323.0,454.7 324.0,459.9 325.0,447.9 326.0,452.4 327.0,471.7 328.0,472.7 329.0,466.9 330.0,466.2 331.0,473.9 332.0,470.3 333.0,478.2 334.0,493.1 335.0,486.2 336.0,495.1 337.0,489.0 338.0,495.0 339.0,503.6 340.0,488.9 341.0,497.0 342.0,500.1 343.0,504.7 344.0,514.4 345.0,510.9 346.0,499.3 347.0,508.9 348.0,507.2 349.0,509.3 350.0,530.1 351.0,513.7 352.0,524.8 353.0,522.0 354.0,534.9 355.0,535.0 356.0,536.8 357.0,538.7 358.0,549.2 359.0,539.2 360.0,543.2 361.0,543.3 362.0,561.0 363.0,553.3 364.0,551.1 365.0,557.3 366.0,577.8 367.0,564.1 368.0,572.6 369.0,572.9 370.0,572.7 371.0,571.4 372.0,576.7 373.0,579.7 374.0,571.3 375.0,604.2 376.0,597.0 377.0,595.0 378.0,595.9 379.0,595.1 380.0,608.7 381.0,604.6 382.0,611.7 383.0,603.1 384.0,616.9 385.0,629.6 386.0,617.9 387.0,626.8 388.0,623.9 389.0,631.9 390.0,632.7 391.0,627.5 392.0,624.7 393.0,630.8 394.0,630.1 395.0,626.8 396.0,634.0 397.0,634.3 398.0,626.4 399.0,631.3 400.0,650.1 401.0,637.1 402.0,632.6 403.0,647.6 404.0,629.2 405.0,616.6 406.0,620.2 407.0,622.6 408.0,633.6 409.0,638.1 410.0,618.5 411.0,638.9 412.0,624.4 413.0,633.6 414.0,634.9 415.0,634.7 416.0,632.1 417.0,633.2 418.0,625.2 419.0,634.2 420.0,638.7 421.0,638.6 422.0,649.3 423.0,640.0 424.0,638.1 425.0,644.1 426.0,635.6 427.0,626.4 428.0,620.8 429.0,642.9 430.0,638.9 431.0,641.1 432.0,634.3 433.0,639.1 434.0,649.3 435.0,640.4 436.0,632.1 437.0,637.0 438.0,649.0 439.0,634.3 440.0,625.6 441.0,628.0 442.0,634.3 443.0,648.0 444.0,643.8 445.0,638.8 446.0,635.7 447.0,643.2 448.0,643.0 449.0,640.7 450.0,642.8 451.0,639.7 452.0,655.7 453.0,630.0 454.0,645.6 455.0,638.8 456.0,649.7 457.0,644.2 458.0,648.3 459.0,650.0 460.0,649.1 461.0,655.6 462.0,642.6 463.0,659.1 464.0,653.8 465.0,659.4 466.0,668.3 467.0,667.0 468.0,673.4 469.0,648.4 470.0,657.5 471.0,670.4 472.0,658.2 473.0,664.7 474.0,676.6 475.0,671.0 476.0,658.5 477.0,665.5 478.0,664.4 479.0,658.1 480.0,654.2 481.0,652.6 482.0,639.4 483.0,646.5 484.0,637.0 485.0,642.8 486.0,640.2 487.0,629.0 488.0,635.3 489.0,630.6 490.0,625.0 491.0,626.7 492.0,617.2 493.0,614.4 494.0,613.7 495.0,610.2 496.0,615.1 497.0,590.9 498.0,601.4 499.0,588.7 500.0,595.8 501.0,598.5 502.0,595.0 503.0,599.0 504.0,593.0 505.0,572.1 506.0,580.1 507.0,594.7 508.0,592.7 509.0,581.5 510.0,569.1 511.0,589.9 512.0,561.2 513.0,573.8 514.0,569.3 515.0,568.7 516.0,557.6 517.0,559.9 518.0,566.6 519.0,554.4 520.0,546.3 521.0,552.1 522.0,550.0 523.0,545.7 524.0,538.4 525.0,543.2 526.0,535.5 527.0,525.4 528.0,530.5 529.0,525.4 530.0,523.2 531.0,508.8 532.0,511.9 533.0,517.3 534.0,518.3 535.0,512.7 536.0,509.5 537.0,511.2 538.0,511.0 539.0,514.1 540.0,504.6 541.0,496.8 542.0,502.2 543.0,486.3 544.0,498.3 545.0,495.0 546.0,497.7 547.0,501.1 548.0,498.7 549.0,489.7 550.0,496.9 551.0,494.7 552.0,500.1 553.0,503.2 554.0,495.6 555.0,506.9 556.0,511.2 557.0,502.3 558.0,509.5 559.0,497.3 560.0,504.9 561.0,516.3 562.0,501.7 563.0,511.9 564.0,512.0 565.0,527.2 566.0,529.6 567.0,521.0 568.0,527.7 569.0,512.8 570.0,536.2 571.0,535.0 572.0,543.0 573.0,521.9 574.0,540.8 575.0,538.3 576.0,526.2 577.0,540.0 578.0,545.7 579.0,553.0 580.0,551.2 581.0,548.7 582.0,556.5 583.0,554.9 584.0,553.4 585.0,552.9 586.0,562.0 587.0,563.9 588.0,576.3 589.0,564.1 590.0,578.8 591.0,573.1 592.0,580.5 593.0,570.0 594.0,572.8 595.0,579.0 596.0,589.2 597.0,587.4 598.0,593.7 599.0,593.5 600.0,600.4 601.0,597.5 602.0,595.0 603.0,603.2 604.0,602.1 605.0,613.7 606.0,603.1 607.0,606.0 608.0,604.5 609.0,614.6 610.0,613.9 611.0,613.6 612.0,602.8 613.0,602.2 614.0,614.4 615.0,618.5 616.0,624.5 617.0,605.6 618.0,617.1 619.0,609.2 620.0,615.3 621.0,621.3 622.0,630.1 623.0,622.3 624.0,622.4 625.0,626.0 626.0,636.8 627.0,644.9 628.0,621.1 629.0,629.7 630.0,629.5 631.0,640.0 632.0,636.1 633.0,643.6 634.0,628.4 635.0,635.4 636.0,633.2 637.0,629.9 638.0,636.4 639.0,630.6 640.0,652.1 641.0,641.9 642.0,633.6 643.0,636.8 644.0,652.0 645.0,638.9 646.0,646.9 647.0,646.9 648.0,650.8 649.0,648.7 650.0,644.3 651.0,642.8 652.0,636.3 653.0,648.0 654.0,650.0 655.0,647.8 656.0,650.1 657.0,644.3 658.0,666.1 659.0,650.2 660.0,647.6 661.0,650.9 662.0,654.2 663.0,660.4 664.0,641.3 665.0,660.0 666.0,653.5 667.0,656.7 668.0,664.6 669.0,663.5 670.0,655.0 671.0,659.0 672.0,671.6 673.0,668.9 674.0,666.3 675.0,661.4 676.0,667.6 677.0,664.4 678.0,658.6 679.0,655.6 680.0,664.5 681.0,662.7 682.0,666.7 683.0,655.0 684.0,665.3 685.0,653.0 686.0,661.8 687.0,656.1 688.0,647.8 689.0,644.0 690.0,647.5 691.0,645.0 692.0,650.7 693.0,638.9 694.0,632.3 695.0,639.6 696.0,649.9 697.0,646.5 698.0,630.8 699.0,631.2 700.0,633.2 701.0,625.4 702.0,626.2 703.0,624.2 704.0,617.5 705.0,618.0 706.0,616.2 707.0,618.1 708.0,607.0 709.0,613.3 710.0,605.9 711.0,607.6 712.0,607.2 713.0,641.2 714.0,626.7 715.0,629.9 716.0,629.1 717.0,625.0 718.0,629.7 719.0,634.1 720.0,638.2 721.0,642.0 722.0,650.3 723.0,624.4 724.0,640.6 725.0,649.0 726.0,643.2 727.0,644.9 728.0,655.6 729.0,647.9 730.0,658.2 731.0,647.3 732.0,649.5 733.0,641.9 734.0,636.7 735.0,646.9 736.0,650.4 737.0,648.4 738.0,642.7 739.0,655.6 740.0,652.5 741.0,652.6 742.0,648.2 743.0,663.8 744.0,663.3 745.0,656.5 746.0,654.4 747.0,657.1 748.0,666.5 749.0,673.8 750.0,656.8 751.0,654.5 752.0,646.2 753.0,675.1 754.0,651.3 755.0,663.8 756.0,661.8 757.0,667.3 758.0,654.0 759.0,649.6 760.0,660.9 761.0,662.9 762.0,667.8 763.0,650.5 764.0,658.5 765.0,660.0 766.0,653.5 767.0,661.2 768.0,667.5 769.0,662.7 770.0,654.3 771.0,665.8 772.0,669.3 773.0,667.8 774.0,670.0 775.0,655.5 776.0,669.3 777.0,670.8 778.0,665.2 779.0,667.5 780.0,663.2 781.0,675.6 782.0,665.7 783.0,661.1 784.0,667.5 785.0,666.1 786.0,668.6 787.0,658.2 788.0,658.1 789.0,663.5 790.0,673.9 791.0,661.5 792.0,648.2 793.0,655.4 794.0,647.1 795.0,637.8 796.0,642.6 797.0,640.9 798.0,645.1 799.0,649.1 800.0,647.1 801.0,644.5 802.0,636.3 803.0,639.5 804.0,637.9 805.0,646.6 806.0,633.5 807.0,633.9 808.0,646.3 809.0,640.4 810.0,633.8 811.0,637.3 812.0,637.0 813.0,636.9 814.0,640.4 815.0,637.5 816.0,633.8 817.0,631.6 818.0,623.7 819.0,631.5 820.0,641.1 821.0,635.2 822.0,629.6 823.0,632.0 824.0,628.1 825.0,635.0 826.0,645.6 827.0,644.2 828.0,640.3 829.0,637.5 830.0,631.1 831.0,624.6 832.0,632.1 833.0,629.0 834.0,636.5 835.0,631.8 836.0,626.7 837.0,632.5 838.0,647.1 839.0,622.7 840.0,634.7 841.0,630.6 842.0,625.6 843.0,620.9 844.0,625.2 845.0,625.9 846.0,628.9 847.0,628.1 848.0,625.4 849.0,618.8 850.0,624.6 851.0,619.5 852.0,615.7 853.0,627.5 854.0,617.5 855.0,613.9 856.0,621.6 857.0,608.9 858.0,620.2 859.0,623.1 860.0,617.5 861.0,621.3 862.0,632.9 863.0,628.1 864.0,624.8 865.0,622.5 866.0,615.3 867.0,617.4 868.0,616.2 869.0,617.9 870.0,618.2 871.0,612.2 872.0,627.0 873.0,610.3 874.0,618.8 875.0,622.7 876.0,615.8 877.0,611.6 878.0,615.7 879.0,627.3 880.0,618.9 881.0,613.0 882.0,618.2 883.0,613.1 884.0,602.5 885.0,615.4 886.0,620.1 887.0,620.5 888.0,612.7 889.0,604.1 890.0,620.0 891.0,611.3 892.0,616.6 893.0,618.7 894.0,613.4 895.0,610.5 896.0,606.5 897.0,607.2 898.0,609.6 899.0,606.0 900.0,610.6 901.0,595.8 902.0,601.2 903.0,606.8 904.0,602.4 905.0,603.0 906.0,599.1 907.0,610.1 908.0,616.0 909.0,599.8 910.0,613.4 911.0,597.6 912.0,608.0 913.0,595.2 914.0,611.3 915.0,609.1 916.0,610.5 917.0,617.8 918.0,614.6 919.0,611.2 920.0,606.8 921.0,612.6 922.0,608.3 923.0,610.3 924.0,622.5 925.0,619.0 926.0,615.7 927.0,618.1 928.0,605.6 929.0,615.5 930.0,604.7 931.0,611.3 932.0,618.1 933.0,618.4 934.0,620.8 935.0,617.7 936.0,617.3 937.0,617.3 938.0,626.3 939.0,626.0 940.0,609.2 941.0,619.4 942.0,626.9 943.0,617.7 944.0,621.0 945.0,616.3 946.0,613.0 947.0,621.7 948.0,618.8 949.0,620.8 950.0,613.3 951.0,615.5 952.0,622.4 953.0,620.9 954.0,627.6 955.0,618.2 956.0,629.7 957.0,629.4 958.0,627.0 959.0,631.0 960.0,627.1 961.0,627.0 962.0,628.7 963.0,621.7 964.0,630.0 965.0,635.8 966.0,621.6 967.0,636.5 968.0,629.1 969.0,631.5 970.0,635.1 971.0,636.9 972.0,644.6 973.0,636.1 974.0,648.4 975.0,639.0 976.0,642.6 977.0,644.6 978.0,637.2 979.0,635.3 980.0,643.8 981.0,648.3 982.0,650.2 983.0,643.6 984.0,657.7 985.0,647.1 986.0,644.6 987.0,657.0 988.0,658.3 989.0,645.7 990.0,657.5 991.0,645.2 992.0,653.9 993.0,668.2 994.0,662.6 995.0,659.4 996.0,659.4 997.0,650.6 998.0,658.1 999.0,659.1 1000.0,650.3 1001.0,658.2 1002.0,660.7 1003.0,659.0 1004.0,660.8 1005.0,657.3 1006.0,652.3 1007.0,660.2 1008.0,648.9 1009.0,657.1 1010.0,669.1 1011.0,674.2 1012.0,666.5 1013.0,649.7 1014.0,673.6 1015.0,669.2 1016.0,665.1 1017.0,671.3 1018.0,670.4 1019.0,659.9 1020.0,659.6 1021.0,674.3 1022.0,653.9 1023.0,671.9 1024.0,670.3" fill="none" stroke="#00bbff" stroke-width="2.8" stroke-linejoin="round"/>
</g>
<g clip-path="url(#cb)">
<path d="M246.0,1297.4 247.0,1306.2 248.0,1308.9 249.0,1305.8 250.0,1307.8 251.0,1305.2 252.0,1304.6 253.0,1305.7 254.0,1306.1 255.0,1315.1 256.0,1311.0 257.0,1312.1 258.0,1309.0 259.0,1307.2 260.0,1306.9 261.0,1308.7 262.0,1315.3 263.0,1312.8 264.0,1310.8 265.0,1311.9 266.0,1306.6 267.0,1318.5 268.0,1307.5 269.0,1313.0 270.0,1322.2 271.0,1301.1 272.0,1305.9 273.0,1308.7 274.0,1312.1 275.0,1303.5 276.0,1309.8 277.0,1310.3 278.0,1310.8 279.0,1299.0 280.0,1312.2 281.0,1316.1 282.0,1310.6 283.0,1305.2 284.0,1305.3 285.0,1296.0 286.0,1309.6 287.0,1313.9 288.0,1309.7 289.0,1293.2 290.0,1304.2 291.0,1305.3 292.0,1303.2 293.0,1309.6 294.0,1296.7 295.0,1300.8 296.0,1306.0 297.0,1307.0 298.0,1302.3 299.0,1305.2 300.0,1301.7 301.0,1293.5 302.0,1302.9 303.0,1293.9 304.0,1288.0 305.0,1296.6 306.0,1302.3 307.0,1298.3 308.0,1298.5 309.0,1295.1 310.0,1283.5 311.0,1298.0 312.0,1296.1 313.0,1284.1 314.0,1293.5 315.0,1293.0 316.0,1302.3 317.0,1298.6 318.0,1299.9 319.0,1300.1 320.0,1293.5 321.0,1291.1 322.0,1300.6 323.0,1299.5 324.0,1301.2 325.0,1301.0 326.0,1300.0 327.0,1305.1 328.0,1303.9 329.0,1300.6 330.0,1295.3 331.0,1292.4 332.0,1297.8 333.0,1303.8 334.0,1308.8 335.0,1303.1 336.0,1308.2 337.0,1310.5 338.0,1316.2 339.0,1307.0 340.0,1312.5 341.0,1307.0 342.0,1300.4 343.0,1295.9 344.0,1307.3 345.0,1309.7 346.0,1316.4 347.0,1302.0 348.0,1306.7 349.0,1303.5 350.0,1292.9 351.0,1304.6 352.0,1301.0 353.0,1296.3 354.0,1309.1 355.0,1298.5 356.0,1303.2 357.0,1299.8 358.0,1297.8 359.0,1300.3 360.0,1304.5 361.0,1297.9 362.0,1293.6 363.0,1309.0 364.0,1303.0 365.0,1296.7 366.0,1300.6 367.0,1294.0 368.0,1300.7 369.0,1304.8 370.0,1292.4 371.0,1304.9 372.0,1304.6 373.0,1299.8 374.0,1301.6 375.0,1299.7 376.0,1299.4 377.0,1293.2 378.0,1309.0 379.0,1298.9 380.0,1302.7 381.0,1301.4 382.0,1304.7 383.0,1305.4 384.0,1298.5 385.0,1304.9 386.0,1302.3 387.0,1299.7 388.0,1309.6 389.0,1309.2 390.0,1299.9 391.0,1302.7 392.0,1299.5 393.0,1298.9 394.0,1299.6 395.0,1306.4 396.0,1297.5 397.0,1297.2 398.0,1305.0 399.0,1300.4 400.0,1308.9 401.0,1299.1 402.0,1301.0 403.0,1299.6 404.0,1292.6 405.0,1304.3 406.0,1305.7 407.0,1306.7 408.0,1301.4 409.0,1305.0 410.0,1301.2 411.0,1301.2 412.0,1297.9 413.0,1300.5 414.0,1296.8 415.0,1303.4 416.0,1297.4 417.0,1295.3 418.0,1299.0 419.0,1298.7 420.0,1290.8 421.0,1293.0 422.0,1294.5 423.0,1298.1 424.0,1298.0 425.0,1298.4 426.0,1293.0 427.0,1289.7 428.0,1286.3 429.0,1292.4 430.0,1289.4 431.0,1292.3 432.0,1294.1 433.0,1297.7 434.0,1284.0 435.0,1289.5 436.0,1278.7 437.0,1289.8 438.0,1278.8 439.0,1282.8 440.0,1277.6 441.0,1288.6 442.0,1283.2 443.0,1284.0 444.0,1278.6 445.0,1280.2 446.0,1272.9 447.0,1275.0 448.0,1282.6 449.0,1267.5 450.0,1275.5 451.0,1279.9 452.0,1278.6 453.0,1276.1 454.0,1272.5 455.0,1277.7 456.0,1269.6 457.0,1269.8 458.0,1261.6 459.0,1269.5 460.0,1265.7 461.0,1266.0 462.0,1254.8 463.0,1258.4 464.0,1261.9 465.0,1256.0 466.0,1263.0 467.0,1268.2 468.0,1257.6 469.0,1258.5 470.0,1253.3 471.0,1251.9 472.0,1246.2 473.0,1253.6 474.0,1243.9 475.0,1246.0 476.0,1244.2 477.0,1239.8 478.0,1240.4 479.0,1241.4 480.0,1244.9 481.0,1238.3 482.0,1242.2 483.0,1235.9 484.0,1232.8 485.0,1231.9 486.0,1225.7 487.0,1228.2 488.0,1221.7 489.0,1218.5 490.0,1222.9 491.0,1208.1 492.0,1204.5 493.0,1205.5 494.0,1204.3 495.0,1199.0 496.0,1202.0 497.0,1197.2 498.0,1195.1 499.0,1185.7 500.0,1196.8 501.0,1187.7 502.0,1181.3 503.0,1189.1 504.0,1180.9 505.0,1175.4 506.0,1171.3 507.0,1173.6 508.0,1168.0 509.0,1163.6 510.0,1164.6 511.0,1160.8 512.0,1156.1 513.0,1159.2 514.0,1158.0 515.0,1154.0 516.0,1142.0 517.0,1137.1 518.0,1127.8 519.0,1128.5 520.0,1120.1 521.0,1119.4 522.0,1111.5 523.0,1109.0 524.0,1099.1 525.0,1093.9 526.0,1086.8 527.0,1065.3 528.0,1063.2 529.0,1059.9 530.0,1049.2 531.0,1040.1 532.0,1026.9 533.0,1022.3 534.0,1007.6 535.0,999.5 536.0,989.0 537.0,986.2 538.0,978.1 539.0,965.9 540.0,959.3 541.0,939.7 542.0,943.7 543.0,921.8 544.0,920.0 545.0,905.9 546.0,909.1 547.0,904.3 548.0,912.8 549.0,897.5 550.0,891.3 551.0,905.3 552.0,905.7 553.0,915.2 554.0,916.8 555.0,908.9 556.0,918.9 557.0,924.0 558.0,931.5 559.0,935.6 560.0,942.5 561.0,949.8 562.0,945.8 563.0,954.7 564.0,970.2 565.0,974.8 566.0,975.6 567.0,982.7 568.0,990.4 569.0,998.4 570.0,998.0 571.0,1002.1 572.0,1017.0 573.0,1017.1 574.0,1021.1 575.0,1034.3 576.0,1037.6 577.0,1044.9 578.0,1051.6 579.0,1062.0 580.0,1065.6 581.0,1071.8 582.0,1071.1 583.0,1077.1 584.0,1084.3 585.0,1092.4 586.0,1106.2 587.0,1104.4 588.0,1111.2 589.0,1128.3 590.0,1126.7 591.0,1128.4 592.0,1137.2 593.0,1138.0 594.0,1147.4 595.0,1146.6 596.0,1142.3 597.0,1153.9 598.0,1145.6 599.0,1161.8 600.0,1157.3 601.0,1147.8 602.0,1168.8 603.0,1157.3 604.0,1151.9 605.0,1172.3 606.0,1161.1 607.0,1165.6 608.0,1166.6 609.0,1169.4 610.0,1173.0 611.0,1163.9 612.0,1185.2 613.0,1178.1 614.0,1176.9 615.0,1181.6 616.0,1181.2 617.0,1186.4 618.0,1187.6 619.0,1190.6 620.0,1191.1 621.0,1190.2 622.0,1193.9 623.0,1193.0 624.0,1199.1 625.0,1192.6 626.0,1194.2 627.0,1206.8 628.0,1197.8 629.0,1208.4 630.0,1211.9 631.0,1200.3 632.0,1213.3 633.0,1221.5 634.0,1213.3 635.0,1224.7 636.0,1214.0 637.0,1210.5 638.0,1217.8 639.0,1219.6 640.0,1228.8 641.0,1224.9 642.0,1224.4 643.0,1225.6 644.0,1236.2 645.0,1223.0 646.0,1226.6 647.0,1231.7 648.0,1235.4 649.0,1240.1 650.0,1243.4 651.0,1236.2 652.0,1243.0 653.0,1237.1 654.0,1255.4 655.0,1244.5 656.0,1239.2 657.0,1251.8 658.0,1249.0 659.0,1255.1 660.0,1255.0 661.0,1244.5 662.0,1257.1 663.0,1253.5 664.0,1254.5 665.0,1258.3 666.0,1259.1 667.0,1262.1 668.0,1267.2 669.0,1264.0 670.0,1266.3 671.0,1272.7 672.0,1266.1 673.0,1269.8 674.0,1269.2 675.0,1274.9 676.0,1266.2 677.0,1272.2 678.0,1276.4 679.0,1273.6 680.0,1275.7 681.0,1273.0 682.0,1276.4 683.0,1273.9 684.0,1278.8 685.0,1275.0 686.0,1273.6 687.0,1276.3 688.0,1274.4 689.0,1288.5 690.0,1279.7 691.0,1277.9 692.0,1276.3 693.0,1281.4 694.0,1275.7 695.0,1276.3 696.0,1275.8 697.0,1276.9 698.0,1277.3 699.0,1274.2 700.0,1280.4 701.0,1274.2 702.0,1281.7 703.0,1284.6 704.0,1276.8 705.0,1277.4 706.0,1284.5 707.0,1277.4 708.0,1280.7 709.0,1280.1 710.0,1279.7 711.0,1277.1 712.0,1283.6 713.0,1281.2 714.0,1279.2 715.0,1279.7 716.0,1276.0 717.0,1283.7 718.0,1283.4 719.0,1288.2 720.0,1278.1 721.0,1289.5 722.0,1282.1 723.0,1287.6 724.0,1274.4 725.0,1283.1 726.0,1284.7 727.0,1275.2 728.0,1284.4 729.0,1287.0 730.0,1278.9 731.0,1287.4 732.0,1285.3 733.0,1288.2 734.0,1282.5 735.0,1279.4 736.0,1282.5 737.0,1285.9 738.0,1275.9 739.0,1287.7 740.0,1286.2 741.0,1286.0 742.0,1274.0 743.0,1282.4 744.0,1286.0 745.0,1285.4 746.0,1289.5 747.0,1284.1 748.0,1284.7 749.0,1292.3 750.0,1291.6 751.0,1287.7 752.0,1286.4 753.0,1281.3 754.0,1291.5 755.0,1287.5 756.0,1297.3 757.0,1287.1 758.0,1290.4 759.0,1287.5 760.0,1291.9 761.0,1302.8 762.0,1289.4 763.0,1286.8 764.0,1292.7 765.0,1292.2 766.0,1283.4 767.0,1295.3 768.0,1286.3 769.0,1295.2 770.0,1291.5 771.0,1288.7 772.0,1292.6 773.0,1288.2 774.0,1284.9 775.0,1288.3 776.0,1290.5 777.0,1285.4 778.0,1291.0 779.0,1285.9 780.0,1293.5 781.0,1290.6 782.0,1289.2 783.0,1280.1 784.0,1292.0 785.0,1281.3 786.0,1287.7 787.0,1284.1 788.0,1297.3 789.0,1290.1 790.0,1291.4 791.0,1293.1 792.0,1288.6 793.0,1293.4 794.0,1284.3 795.0,1294.3 796.0,1292.9 797.0,1290.5 798.0,1281.4 799.0,1281.9 800.0,1284.7 801.0,1287.6 802.0,1292.5 803.0,1288.5 804.0,1288.2 805.0,1288.7 806.0,1285.7 807.0,1284.8 808.0,1286.2 809.0,1290.8 810.0,1287.0 811.0,1287.5 812.0,1291.8 813.0,1278.2 814.0,1280.5 815.0,1286.8 816.0,1285.6 817.0,1281.5 818.0,1276.5 819.0,1283.1 820.0,1283.1 821.0,1286.6 822.0,1278.9 823.0,1282.5 824.0,1275.2 825.0,1272.8 826.0,1289.2 827.0,1278.7 828.0,1284.4 829.0,1282.9 830.0,1280.5 831.0,1285.4 832.0,1288.0 833.0,1277.9 834.0,1280.0 835.0,1273.9 836.0,1280.4 837.0,1281.5 838.0,1277.0 839.0,1277.5 840.0,1276.1 841.0,1278.0 842.0,1283.7 843.0,1277.8 844.0,1277.9 845.0,1274.4 846.0,1280.6 847.0,1279.6 848.0,1276.4 849.0,1285.0 850.0,1271.7 851.0,1282.9 852.0,1279.4 853.0,1271.9 854.0,1279.3 855.0,1283.6 856.0,1281.3 857.0,1278.2 858.0,1281.5 859.0,1270.3 860.0,1275.8 861.0,1269.1 862.0,1273.1 863.0,1274.0 864.0,1273.5 865.0,1273.6 866.0,1271.4 867.0,1273.0 868.0,1274.2 869.0,1277.8 870.0,1271.9 871.0,1277.6 872.0,1267.0 873.0,1273.7 874.0,1272.4 875.0,1270.7 876.0,1278.7 877.0,1268.2 878.0,1270.3 879.0,1263.7 880.0,1264.1 881.0,1265.7 882.0,1273.6 883.0,1268.1 884.0,1263.6 885.0,1267.7 886.0,1273.2 887.0,1263.4 888.0,1266.2 889.0,1262.7 890.0,1263.3 891.0,1268.2 892.0,1260.0 893.0,1264.5 894.0,1264.5 895.0,1261.7 896.0,1259.4 897.0,1264.9 898.0,1259.0 899.0,1257.0 900.0,1268.5 901.0,1261.6 902.0,1254.8 903.0,1258.4 904.0,1259.0 905.0,1260.8 906.0,1259.1 907.0,1264.6 908.0,1263.4 909.0,1269.5 910.0,1251.1 911.0,1259.2 912.0,1259.8 913.0,1250.0 914.0,1257.9 915.0,1268.8 916.0,1258.5 917.0,1262.6 918.0,1261.3 919.0,1252.3 920.0,1256.7 921.0,1263.9 922.0,1266.0 923.0,1268.4 924.0,1257.2 925.0,1263.1 926.0,1257.1 927.0,1259.1 928.0,1251.1 929.0,1261.3 930.0,1267.5 931.0,1260.6 932.0,1259.3 933.0,1260.2 934.0,1259.9 935.0,1251.4 936.0,1261.0 937.0,1254.7 938.0,1265.7 939.0,1261.2 940.0,1258.2 941.0,1258.7 942.0,1247.3 943.0,1259.5 944.0,1260.3 945.0,1260.5 946.0,1258.2 947.0,1265.1 948.0,1264.8 949.0,1262.1 950.0,1264.7 951.0,1258.0 952.0,1270.0 953.0,1264.9 954.0,1258.3 955.0,1268.6 956.0,1268.5 957.0,1274.9 958.0,1268.6 959.0,1263.0 960.0,1264.0 961.0,1275.3 962.0,1269.8 963.0,1267.1 964.0,1273.7 965.0,1278.9 966.0,1275.8 967.0,1271.5 968.0,1275.7 969.0,1268.7 970.0,1269.5 971.0,1273.9 972.0,1269.7 973.0,1283.4 974.0,1279.2 975.0,1265.2 976.0,1273.4 977.0,1269.3 978.0,1278.9 979.0,1274.2 980.0,1279.7 981.0,1281.7 982.0,1275.5 983.0,1277.6 984.0,1283.0 985.0,1281.4 986.0,1285.1 987.0,1281.7 988.0,1275.1 989.0,1286.2 990.0,1274.3 991.0,1275.8 992.0,1271.3 993.0,1275.1 994.0,1284.6 995.0,1279.5 996.0,1283.7 997.0,1275.6 998.0,1283.1 999.0,1287.3 1000.0,1287.7 1001.0,1282.2 1002.0,1287.1 1003.0,1292.4 1004.0,1281.3 1005.0,1286.8 1006.0,1285.4 1007.0,1283.9 1008.0,1281.4 1009.0,1282.4 1010.0,1285.1 1011.0,1288.2 1012.0,1284.1 1013.0,1285.6 1014.0,1285.6 1015.0,1286.5 1016.0,1274.6 1017.0,1280.5 1018.0,1281.3 1019.0,1282.0 1020.0,1285.4 1021.0,1286.1 1022.0,1285.1 1023.0,1283.2 1024.0,1278.4 1025.0,1275.4" fill="none" stroke="#5c5c5c" stroke-width="2.8" stroke-linejoin="round"/>
<path d="M246.0,1288.6 247.0,1294.3 248.0,1280.2 249.0,1296.2 250.0,1289.0 251.0,1286.1 252.0,1286.5 253.0,1285.7 254.0,1289.9 255.0,1294.9 256.0,1294.1 257.0,1294.6 258.0,1284.3 259.0,1285.0 260.0,1298.9 261.0,1296.3 262.0,1301.7 263.0,1297.3 264.0,1287.3 265.0,1297.5 266.0,1294.5 267.0,1292.5 268.0,1287.8 269.0,1291.3 270.0,1290.5 271.0,1294.9 272.0,1291.3 273.0,1297.7 274.0,1287.0 275.0,1292.3 276.0,1292.2 277.0,1285.9 278.0,1284.1 279.0,1293.5 280.0,1290.7 281.0,1287.1 282.0,1288.9 283.0,1283.4 284.0,1286.7 285.0,1282.1 286.0,1284.8 287.0,1287.4 288.0,1280.6 289.0,1284.9 290.0,1275.5 291.0,1277.8 292.0,1272.0 293.0,1276.6 294.0,1276.4 295.0,1274.1 296.0,1272.6 297.0,1278.4 298.0,1277.1 299.0,1263.6 300.0,1272.5 301.0,1257.8 302.0,1260.5 303.0,1261.5 304.0,1261.4 305.0,1255.2 306.0,1256.0 307.0,1259.3 308.0,1256.0 309.0,1256.5 310.0,1262.7 311.0,1264.5 312.0,1260.7 313.0,1261.7 314.0,1262.3 315.0,1261.1 316.0,1261.6 317.0,1260.0 318.0,1268.3 319.0,1265.6 320.0,1266.0 321.0,1268.1 322.0,1270.2 323.0,1274.8 324.0,1267.8 325.0,1267.9 326.0,1271.1 327.0,1267.1 328.0,1277.1 329.0,1276.1 330.0,1275.6 331.0,1272.5 332.0,1276.8 333.0,1278.7 334.0,1276.7 335.0,1273.7 336.0,1267.9 337.0,1280.1 338.0,1274.8 339.0,1273.0 340.0,1281.1 341.0,1279.0 342.0,1271.4 343.0,1277.6 344.0,1277.0 345.0,1282.8 346.0,1270.1 347.0,1276.9 348.0,1278.2 349.0,1285.2 350.0,1274.2 351.0,1266.0 352.0,1273.0 353.0,1280.5 354.0,1283.1 355.0,1287.4 356.0,1281.6 357.0,1276.4 358.0,1284.2 359.0,1280.5 360.0,1280.0 361.0,1281.4 362.0,1287.4 363.0,1278.2 364.0,1278.2 365.0,1282.9 366.0,1283.5 367.0,1280.7 368.0,1281.0 369.0,1287.1 370.0,1291.9 371.0,1289.7 372.0,1290.1 373.0,1293.1 374.0,1279.1 375.0,1281.8 376.0,1286.0 377.0,1284.3 378.0,1285.8 379.0,1291.1 380.0,1285.7 381.0,1290.0 382.0,1283.4 383.0,1288.7 384.0,1299.7 385.0,1291.8 386.0,1296.2 387.0,1298.4 388.0,1293.5 389.0,1298.7 390.0,1297.6 391.0,1300.1 392.0,1294.6 393.0,1291.4 394.0,1293.6 395.0,1296.1 396.0,1301.4 397.0,1298.5 398.0,1298.1 399.0,1299.5 400.0,1305.6 401.0,1298.5 402.0,1308.2 403.0,1296.3 404.0,1299.5 405.0,1306.3 406.0,1305.1 407.0,1299.2 408.0,1302.8 409.0,1300.3 410.0,1307.5 411.0,1306.2 412.0,1300.7 413.0,1305.8 414.0,1302.4 415.0,1303.7 416.0,1304.3 417.0,1301.4 418.0,1305.8 419.0,1305.8 420.0,1305.6 421.0,1308.5 422.0,1302.3 423.0,1296.7 424.0,1301.0 425.0,1304.0 426.0,1303.0 427.0,1305.4 428.0,1306.2 429.0,1301.9 430.0,1301.8 431.0,1297.7 432.0,1306.6 433.0,1300.6 434.0,1296.8 435.0,1296.5 436.0,1299.4 437.0,1308.1 438.0,1304.4 439.0,1293.3 440.0,1300.1 441.0,1301.7 442.0,1303.1 443.0,1301.6 444.0,1297.0 445.0,1301.5 446.0,1297.0 447.0,1289.2 448.0,1295.8 449.0,1295.7 450.0,1302.8 451.0,1303.1 452.0,1293.5 453.0,1298.7 454.0,1298.2 455.0,1291.2 456.0,1288.3 457.0,1296.9 458.0,1297.8 459.0,1294.5 460.0,1285.0 461.0,1296.9 462.0,1294.4 463.0,1293.2 464.0,1296.2 465.0,1293.2 466.0,1301.5 467.0,1299.8 468.0,1297.9 469.0,1302.1 470.0,1300.9 471.0,1294.2 472.0,1300.3 473.0,1298.8 474.0,1293.0 475.0,1297.7 476.0,1302.4 477.0,1297.5 478.0,1306.4 479.0,1307.5 480.0,1298.3 481.0,1301.9 482.0,1308.1 483.0,1297.4 484.0,1294.6 485.0,1296.4 486.0,1291.9 487.0,1291.6 488.0,1298.1 489.0,1294.7 490.0,1297.0 491.0,1297.4 492.0,1291.0 493.0,1292.7 494.0,1291.4 495.0,1288.7 496.0,1287.0 497.0,1291.2 498.0,1288.2 499.0,1289.3 500.0,1291.4 501.0,1290.5 502.0,1280.1 503.0,1280.4 504.0,1282.1 505.0,1282.9 506.0,1285.6 507.0,1276.2 508.0,1277.6 509.0,1279.6 510.0,1283.0 511.0,1282.7 512.0,1271.0 513.0,1273.4 514.0,1269.7 515.0,1275.9 516.0,1273.0 517.0,1268.2 518.0,1265.8 519.0,1268.6 520.0,1270.3 521.0,1261.1 522.0,1261.7 523.0,1262.3 524.0,1260.4 525.0,1260.4 526.0,1252.9 527.0,1253.2 528.0,1245.0 529.0,1253.2 530.0,1256.2 531.0,1240.8 532.0,1245.7 533.0,1250.9 534.0,1244.7 535.0,1235.2 536.0,1247.2 537.0,1234.0 538.0,1244.8 539.0,1234.5 540.0,1232.5 541.0,1234.4 542.0,1233.0 543.0,1234.7 544.0,1233.3 545.0,1229.4 546.0,1235.1 547.0,1231.5 548.0,1228.7 549.0,1227.3 550.0,1225.5 551.0,1224.9 552.0,1227.6 553.0,1226.1 554.0,1223.6 555.0,1227.5 556.0,1221.4 557.0,1224.1 558.0,1225.5 559.0,1216.3 560.0,1219.7 561.0,1227.9 562.0,1215.8 563.0,1224.9 564.0,1214.8 565.0,1221.1 566.0,1214.4 567.0,1216.3 568.0,1217.3 569.0,1216.6 570.0,1223.5 571.0,1222.7 572.0,1222.9 573.0,1219.9 574.0,1226.3 575.0,1223.6 576.0,1220.4 577.0,1214.3 578.0,1222.4 579.0,1223.2 580.0,1222.1 581.0,1226.6 582.0,1228.8 583.0,1226.0 584.0,1231.7 585.0,1232.3 586.0,1233.4 587.0,1231.4 588.0,1231.8 589.0,1235.3 590.0,1242.0 591.0,1246.7 592.0,1235.5 593.0,1233.1 594.0,1237.0 595.0,1235.4 596.0,1237.9 597.0,1242.2 598.0,1236.9 599.0,1244.3 600.0,1245.7 601.0,1249.4 602.0,1251.3 603.0,1248.1 604.0,1254.3 605.0,1242.4 606.0,1246.3 607.0,1246.3 608.0,1248.0 609.0,1251.1 610.0,1245.6 611.0,1255.1 612.0,1253.7 613.0,1250.1 614.0,1251.1 615.0,1245.1 616.0,1238.9 617.0,1250.0 618.0,1252.3 619.0,1252.4 620.0,1247.0 621.0,1250.4 622.0,1260.7 623.0,1256.6 624.0,1256.6 625.0,1253.0 626.0,1258.2 627.0,1261.2 628.0,1259.4 629.0,1254.8 630.0,1258.4 631.0,1253.9 632.0,1257.0 633.0,1261.6 634.0,1257.2 635.0,1259.1 636.0,1267.2 637.0,1260.7 638.0,1265.4 639.0,1261.4 640.0,1258.3 641.0,1264.0 642.0,1263.1 643.0,1256.4 644.0,1260.7 645.0,1264.8 646.0,1273.9 647.0,1265.5 648.0,1268.7 649.0,1272.4 650.0,1271.7 651.0,1269.8 652.0,1279.7 653.0,1279.0 654.0,1263.1 655.0,1279.0 656.0,1277.9 657.0,1280.6 658.0,1277.3 659.0,1281.2 660.0,1286.6 661.0,1286.1 662.0,1286.9 663.0,1284.1 664.0,1284.0 665.0,1284.5 666.0,1275.8 667.0,1291.3 668.0,1282.6 669.0,1283.4 670.0,1282.9 671.0,1284.8 672.0,1273.6 673.0,1284.3 674.0,1277.9 675.0,1279.3 676.0,1275.6 677.0,1276.4 678.0,1286.6 679.0,1281.9 680.0,1283.6 681.0,1283.3 682.0,1278.8 683.0,1280.8 684.0,1278.2 685.0,1282.3 686.0,1273.8 687.0,1281.7 688.0,1287.4 689.0,1288.6 690.0,1288.2 691.0,1285.1 692.0,1278.3 693.0,1286.7 694.0,1284.8 695.0,1283.6 696.0,1276.9 697.0,1283.9 698.0,1288.3 699.0,1285.2 700.0,1280.8 701.0,1284.1 702.0,1281.5 703.0,1282.2 704.0,1285.0 705.0,1282.6 706.0,1281.3 707.0,1282.5 708.0,1277.1 709.0,1276.1 710.0,1282.6 711.0,1277.7 712.0,1282.7 713.0,1272.0 714.0,1285.4 715.0,1279.6 716.0,1287.4 717.0,1269.0 718.0,1272.6 719.0,1286.3 720.0,1280.8 721.0,1281.5 722.0,1280.8 723.0,1281.1 724.0,1282.8 725.0,1276.1 726.0,1280.0 727.0,1286.6 728.0,1281.8 729.0,1278.4 730.0,1281.7 731.0,1286.0 732.0,1280.7 733.0,1280.9 734.0,1284.0 735.0,1285.7 736.0,1288.6 737.0,1281.6 738.0,1283.8 739.0,1287.0 740.0,1274.1 741.0,1283.3 742.0,1284.9 743.0,1282.6 744.0,1279.3 745.0,1285.8 746.0,1288.9 747.0,1283.1 748.0,1281.5 749.0,1282.8 750.0,1290.7 751.0,1289.4 752.0,1284.2 753.0,1279.2 754.0,1278.5 755.0,1282.7 756.0,1282.7 757.0,1285.3 758.0,1279.1 759.0,1283.5 760.0,1286.5 761.0,1276.6 762.0,1294.3 763.0,1286.7 764.0,1286.5 765.0,1278.3 766.0,1279.6 767.0,1288.7 768.0,1288.1 769.0,1273.3 770.0,1289.3 771.0,1287.4 772.0,1286.9 773.0,1279.2 774.0,1285.3 775.0,1281.3 776.0,1286.2 777.0,1291.5 778.0,1285.6 779.0,1286.7 780.0,1280.2 781.0,1276.5 782.0,1280.7 783.0,1284.9 784.0,1286.7 785.0,1280.0 786.0,1281.7 787.0,1279.2 788.0,1273.9 789.0,1282.6 790.0,1284.5 791.0,1281.9 792.0,1283.8 793.0,1277.4 794.0,1286.4 795.0,1293.1 796.0,1287.5 797.0,1290.9 798.0,1290.7 799.0,1285.8 800.0,1290.6 801.0,1286.5 802.0,1303.6 803.0,1291.9 804.0,1286.6 805.0,1285.0 806.0,1299.0 807.0,1295.5 808.0,1295.0 809.0,1287.6 810.0,1291.7 811.0,1289.3 812.0,1300.1 813.0,1293.4 814.0,1305.0 815.0,1299.4 816.0,1296.3 817.0,1304.5 818.0,1289.9 819.0,1296.3 820.0,1299.0 821.0,1306.3 822.0,1307.1 823.0,1304.7 824.0,1295.9 825.0,1302.2 826.0,1300.4 827.0,1311.5 828.0,1304.6 829.0,1309.8 830.0,1316.0 831.0,1307.9 832.0,1311.8 833.0,1307.4 834.0,1309.8 835.0,1310.2 836.0,1310.6 837.0,1311.3 838.0,1309.6 839.0,1320.1 840.0,1309.3 841.0,1313.7 842.0,1311.6 843.0,1303.2 844.0,1317.8 845.0,1314.8 846.0,1307.8 847.0,1310.8 848.0,1307.0 849.0,1315.4 850.0,1321.1 851.0,1319.6 852.0,1308.3 853.0,1306.3 854.0,1316.3 855.0,1321.3 856.0,1313.9 857.0,1318.3 858.0,1307.2 859.0,1312.8 860.0,1315.2 861.0,1311.2 862.0,1311.9 863.0,1315.8 864.0,1309.8 865.0,1308.0 866.0,1315.7 867.0,1313.3 868.0,1307.7 869.0,1313.9 870.0,1309.4 871.0,1314.7 872.0,1311.7 873.0,1310.3 874.0,1308.1 875.0,1312.3 876.0,1311.1 877.0,1319.7 878.0,1311.0 879.0,1305.0 880.0,1320.2 881.0,1301.8 882.0,1318.1 883.0,1306.8 884.0,1316.7 885.0,1309.5 886.0,1312.7 887.0,1310.2 888.0,1309.4 889.0,1312.0 890.0,1306.6 891.0,1311.4 892.0,1304.2 893.0,1305.5 894.0,1306.2 895.0,1307.8 896.0,1313.3 897.0,1303.9 898.0,1303.5 899.0,1302.0 900.0,1304.9 901.0,1308.9 902.0,1302.8 903.0,1304.5 904.0,1302.9 905.0,1305.7 906.0,1296.0 907.0,1307.5 908.0,1308.7 909.0,1300.6 910.0,1303.8 911.0,1299.9 912.0,1308.2 913.0,1306.4 914.0,1316.3 915.0,1302.2 916.0,1299.0 917.0,1300.6 918.0,1296.9 919.0,1303.3 920.0,1303.5 921.0,1306.1 922.0,1303.5 923.0,1299.7 924.0,1307.1 925.0,1303.7 926.0,1304.6 927.0,1295.4 928.0,1296.7 929.0,1297.4 930.0,1298.3 931.0,1290.0 932.0,1305.0 933.0,1298.4 934.0,1302.9 935.0,1302.3 936.0,1305.3 937.0,1300.8 938.0,1299.6 939.0,1294.3 940.0,1297.7 941.0,1304.5 942.0,1288.1 943.0,1291.9 944.0,1295.3 945.0,1300.2 946.0,1286.9 947.0,1288.5 948.0,1290.0 949.0,1301.9 950.0,1282.9 951.0,1284.8 952.0,1287.7 953.0,1280.1 954.0,1284.0 955.0,1283.3 956.0,1278.9 957.0,1281.1 958.0,1286.3 959.0,1278.2 960.0,1274.8 961.0,1272.5 962.0,1276.1 963.0,1279.0 964.0,1274.3 965.0,1274.5 966.0,1284.5 967.0,1269.0 968.0,1267.4 969.0,1273.2 970.0,1270.8 971.0,1274.1 972.0,1276.9 973.0,1272.8 974.0,1270.2 975.0,1273.2 976.0,1272.9 977.0,1270.3 978.0,1268.0 979.0,1273.5 980.0,1269.6 981.0,1265.3 982.0,1273.4 983.0,1268.1 984.0,1268.1 985.0,1273.6 986.0,1267.4 987.0,1270.4 988.0,1267.1 989.0,1265.1 990.0,1273.6 991.0,1279.7 992.0,1269.3 993.0,1278.9 994.0,1279.0 995.0,1281.4 996.0,1270.5 997.0,1272.9 998.0,1283.7 999.0,1276.8 1000.0,1277.7 1001.0,1281.8 1002.0,1282.4 1003.0,1278.3 1004.0,1280.9 1005.0,1285.8 1006.0,1285.3 1007.0,1281.9 1008.0,1291.9 1009.0,1290.8 1010.0,1286.4 1011.0,1286.0 1012.0,1293.1 1013.0,1278.7 1014.0,1290.4 1015.0,1287.8 1016.0,1287.9 1017.0,1295.3 1018.0,1293.1 1019.0,1305.8 1020.0,1291.5 1021.0,1294.4 1022.0,1286.8 1023.0,1297.8 1024.0,1290.8 1025.0,1294.5" fill="none" stroke="#00bbff" stroke-width="2.8" stroke-linejoin="round"/>
<path d="M246.0,1285.8 247.0,1287.4 248.0,1287.7 249.0,1291.5 250.0,1301.4 251.0,1288.5 252.0,1300.5 253.0,1302.5 254.0,1295.8 255.0,1294.7 256.0,1300.3 257.0,1304.0 258.0,1308.4 259.0,1302.9 260.0,1306.1 261.0,1297.0 262.0,1295.1 263.0,1291.3 264.0,1293.8 265.0,1297.4 266.0,1299.9 267.0,1293.1 268.0,1302.6 269.0,1298.5 270.0,1296.1 271.0,1295.6 272.0,1308.0 273.0,1299.7 274.0,1294.8 275.0,1294.2 276.0,1306.3 277.0,1295.1 278.0,1302.5 279.0,1303.0 280.0,1285.6 281.0,1301.4 282.0,1293.7 283.0,1289.2 284.0,1290.9 285.0,1295.2 286.0,1293.7 287.0,1293.2 288.0,1287.2 289.0,1295.1 290.0,1295.0 291.0,1295.4 292.0,1290.5 293.0,1293.4 294.0,1293.1 295.0,1285.9 296.0,1285.8 297.0,1283.7 298.0,1283.0 299.0,1284.0 300.0,1272.4 301.0,1278.6 302.0,1282.3 303.0,1270.9 304.0,1274.0 305.0,1287.8 306.0,1276.2 307.0,1279.1 308.0,1283.1 309.0,1279.6 310.0,1278.2 311.0,1280.0 312.0,1280.6 313.0,1280.3 314.0,1284.0 315.0,1290.7 316.0,1285.4 317.0,1291.5 318.0,1287.9 319.0,1288.7 320.0,1288.0 321.0,1284.4 322.0,1288.1 323.0,1287.9 324.0,1282.0 325.0,1290.8 326.0,1290.5 327.0,1290.0 328.0,1286.4 329.0,1277.6 330.0,1296.4 331.0,1290.1 332.0,1281.2 333.0,1294.3 334.0,1288.8 335.0,1295.6 336.0,1292.5 337.0,1298.6 338.0,1295.0 339.0,1295.8 340.0,1295.7 341.0,1301.1 342.0,1290.5 343.0,1302.1 344.0,1300.6 345.0,1295.6 346.0,1298.7 347.0,1297.2 348.0,1300.0 349.0,1304.3 350.0,1297.5 351.0,1304.1 352.0,1305.1 353.0,1303.8 354.0,1308.0 355.0,1300.7 356.0,1304.1 357.0,1312.1 358.0,1301.1 359.0,1300.4 360.0,1301.0 361.0,1303.6 362.0,1298.2 363.0,1299.9 364.0,1293.2 365.0,1296.3 366.0,1296.4 367.0,1295.8 368.0,1299.0 369.0,1304.1 370.0,1299.3 371.0,1295.0 372.0,1302.0 373.0,1301.6 374.0,1294.6 375.0,1301.4 376.0,1295.9 377.0,1297.8 378.0,1297.3 379.0,1304.1 380.0,1296.7 381.0,1298.8 382.0,1301.0 383.0,1304.7 384.0,1305.2 385.0,1295.3 386.0,1305.0 387.0,1300.9 388.0,1304.8 389.0,1304.0 390.0,1296.8 391.0,1299.2 392.0,1297.4 393.0,1300.0 394.0,1305.1 395.0,1297.3 396.0,1293.2 397.0,1306.6 398.0,1289.8 399.0,1293.2 400.0,1292.1 401.0,1285.4 402.0,1293.6 403.0,1293.8 404.0,1287.7 405.0,1287.5 406.0,1285.8 407.0,1278.0 408.0,1286.5 409.0,1279.6 410.0,1280.7 411.0,1286.8 412.0,1289.4 413.0,1281.7 414.0,1291.0 415.0,1294.3 416.0,1287.7 417.0,1287.2 418.0,1289.1 419.0,1287.0 420.0,1285.7 421.0,1293.0 422.0,1294.0 423.0,1289.2 424.0,1290.2 425.0,1289.9 426.0,1290.2 427.0,1289.8 428.0,1288.2 429.0,1299.8 430.0,1295.1 431.0,1297.8 432.0,1306.3 433.0,1296.9 434.0,1302.3 435.0,1294.2 436.0,1297.9 437.0,1304.0 438.0,1299.8 439.0,1294.6 440.0,1294.2 441.0,1302.5 442.0,1296.8 443.0,1304.0 444.0,1302.2 445.0,1299.5 446.0,1300.7 447.0,1304.3 448.0,1301.1 449.0,1296.8 450.0,1302.4 451.0,1299.4 452.0,1299.9 453.0,1303.5 454.0,1302.4 455.0,1305.5 456.0,1300.1 457.0,1299.0 458.0,1299.5 459.0,1302.6 460.0,1297.4 461.0,1299.4 462.0,1297.3 463.0,1297.6 464.0,1300.2 465.0,1311.6 466.0,1299.3 467.0,1302.1 468.0,1301.4 469.0,1300.2 470.0,1301.1 471.0,1309.5 472.0,1299.4 473.0,1307.1 474.0,1302.3 475.0,1294.9 476.0,1295.0 477.0,1294.8 478.0,1291.0 479.0,1299.6 480.0,1295.2 481.0,1294.4 482.0,1286.4 483.0,1291.6 484.0,1286.0 485.0,1297.7 486.0,1285.6 487.0,1286.1 488.0,1285.4 489.0,1280.3 490.0,1279.3 491.0,1277.9 492.0,1281.9 493.0,1273.6 494.0,1274.6 495.0,1275.2 496.0,1270.5 497.0,1264.9 498.0,1264.1 499.0,1266.0 500.0,1262.2 501.0,1269.2 502.0,1263.7 503.0,1262.1 504.0,1256.5 505.0,1261.8 506.0,1256.6 507.0,1252.7 508.0,1252.7 509.0,1264.5 510.0,1250.2 511.0,1247.6 512.0,1255.0 513.0,1251.7 514.0,1245.8 515.0,1251.5 516.0,1237.6 517.0,1240.3 518.0,1233.6 519.0,1245.0 520.0,1237.5 521.0,1246.8 522.0,1235.8 523.0,1234.1 524.0,1225.3 525.0,1223.2 526.0,1224.2 527.0,1228.2 528.0,1217.8 529.0,1209.8 530.0,1221.7 531.0,1219.7 532.0,1209.5 533.0,1213.1 534.0,1213.7 535.0,1211.5 536.0,1197.1 537.0,1201.4 538.0,1194.9 539.0,1199.2 540.0,1192.0 541.0,1182.3 542.0,1183.0 543.0,1179.7 544.0,1164.8 545.0,1160.3 546.0,1158.6 547.0,1156.2 548.0,1151.3 549.0,1142.2 550.0,1139.9 551.0,1143.0 552.0,1141.3 553.0,1131.5 554.0,1131.6 555.0,1134.5 556.0,1121.1 557.0,1116.4 558.0,1112.5 559.0,1115.4 560.0,1112.1 561.0,1110.1 562.0,1105.4 563.0,1107.1 564.0,1105.6 565.0,1101.8 566.0,1106.6 567.0,1094.1 568.0,1103.8 569.0,1100.2 570.0,1104.6 571.0,1109.4 572.0,1101.7 573.0,1101.0 574.0,1102.1 575.0,1108.8 576.0,1110.0 577.0,1104.6 578.0,1108.0 579.0,1115.3 580.0,1112.7 581.0,1106.9 582.0,1112.6 583.0,1116.1 584.0,1120.7 585.0,1116.1 586.0,1123.6 587.0,1113.9 588.0,1120.9 589.0,1108.8 590.0,1115.1 591.0,1107.4 592.0,1110.3 593.0,1109.8 594.0,1105.4 595.0,1098.5 596.0,1086.8 597.0,1082.8 598.0,1069.2 599.0,1086.5 600.0,1082.3 601.0,1078.0 602.0,1065.8 603.0,1081.1 604.0,1065.3 605.0,1072.6 606.0,1063.3 607.0,1070.2 608.0,1081.4 609.0,1084.1 610.0,1078.5 611.0,1087.8 612.0,1100.1 613.0,1095.2 614.0,1115.4 615.0,1113.7 616.0,1131.0 617.0,1134.2 618.0,1146.8 619.0,1147.2 620.0,1154.6 621.0,1160.9 622.0,1163.9 623.0,1172.2 624.0,1173.9 625.0,1180.7 626.0,1190.6 627.0,1190.1 628.0,1199.8 629.0,1201.2 630.0,1204.5 631.0,1198.4 632.0,1207.7 633.0,1214.5 634.0,1214.3 635.0,1217.8 636.0,1221.3 637.0,1210.0 638.0,1221.6 639.0,1223.8 640.0,1222.9 641.0,1220.4 642.0,1229.3 643.0,1230.3 644.0,1242.1 645.0,1241.6 646.0,1236.3 647.0,1235.8 648.0,1238.9 649.0,1244.7 650.0,1243.8 651.0,1257.9 652.0,1245.9 653.0,1252.8 654.0,1255.9 655.0,1259.1 656.0,1255.0 657.0,1260.0 658.0,1263.6 659.0,1265.9 660.0,1263.5 661.0,1266.3 662.0,1270.2 663.0,1279.3 664.0,1267.1 665.0,1277.1 666.0,1282.6 667.0,1270.9 668.0,1285.1 669.0,1286.4 670.0,1281.8 671.0,1287.2 672.0,1290.7 673.0,1284.7 674.0,1287.5 675.0,1282.7 676.0,1285.3 677.0,1289.5 678.0,1289.4 679.0,1297.5 680.0,1289.8 681.0,1285.9 682.0,1295.6 683.0,1296.1 684.0,1294.2 685.0,1292.2 686.0,1289.6 687.0,1290.6 688.0,1300.5 689.0,1297.5 690.0,1294.8 691.0,1296.4 692.0,1293.3 693.0,1290.9 694.0,1293.0 695.0,1295.0 696.0,1288.0 697.0,1288.9 698.0,1287.7 699.0,1293.3 700.0,1298.0 701.0,1289.3 702.0,1290.2 703.0,1288.1 704.0,1293.1 705.0,1289.8 706.0,1290.6 707.0,1290.2 708.0,1305.0 709.0,1294.6 710.0,1292.1 711.0,1293.0 712.0,1298.9 713.0,1299.3 714.0,1296.2 715.0,1286.3 716.0,1299.4 717.0,1299.7 718.0,1298.5 719.0,1297.2 720.0,1295.5 721.0,1300.6 722.0,1294.1 723.0,1300.2 724.0,1293.7 725.0,1294.3 726.0,1294.3 727.0,1294.0 728.0,1294.6 729.0,1300.4 730.0,1304.2 731.0,1294.5 732.0,1293.3 733.0,1303.7 734.0,1297.0 735.0,1300.0 736.0,1299.7 737.0,1303.4 738.0,1295.8 739.0,1305.1 740.0,1304.0 741.0,1291.2 742.0,1300.7 743.0,1300.2 744.0,1304.1 745.0,1302.6 746.0,1300.1 747.0,1302.3 748.0,1305.9 749.0,1305.0 750.0,1304.6 751.0,1315.5 752.0,1308.4 753.0,1301.5 754.0,1307.3 755.0,1308.4 756.0,1302.8 757.0,1308.0 758.0,1304.0 759.0,1298.1 760.0,1309.7 761.0,1311.1 762.0,1311.3 763.0,1308.1 764.0,1306.3 765.0,1310.2 766.0,1311.2 767.0,1313.5 768.0,1315.5 769.0,1313.3 770.0,1307.3 771.0,1309.7 772.0,1303.8 773.0,1313.2 774.0,1312.6 775.0,1315.3 776.0,1312.2 777.0,1317.0 778.0,1306.9 779.0,1311.4 780.0,1308.8 781.0,1308.9 782.0,1302.0 783.0,1306.5 784.0,1300.9 785.0,1308.1 786.0,1306.4 787.0,1310.0 788.0,1301.3 789.0,1306.9 790.0,1308.0 791.0,1298.9 792.0,1316.2 793.0,1311.0 794.0,1305.4 795.0,1317.0 796.0,1314.6 797.0,1297.6 798.0,1307.1 799.0,1305.6 800.0,1308.5 801.0,1304.0 802.0,1306.9 803.0,1308.3 804.0,1296.8 805.0,1308.3 806.0,1313.9 807.0,1308.1 808.0,1312.5 809.0,1314.3 810.0,1308.4 811.0,1308.8 812.0,1308.7 813.0,1304.8 814.0,1316.6 815.0,1308.3 816.0,1308.5 817.0,1310.0 818.0,1312.0 819.0,1299.1 820.0,1300.2 821.0,1305.0 822.0,1306.3 823.0,1298.2 824.0,1297.0 825.0,1306.1 826.0,1305.4 827.0,1300.5 828.0,1300.0 829.0,1298.0 830.0,1295.1 831.0,1296.0 832.0,1300.1 833.0,1298.1 834.0,1302.6 835.0,1291.9 836.0,1289.6 837.0,1299.0 838.0,1291.7 839.0,1293.9 840.0,1294.8 841.0,1288.4 842.0,1286.6 843.0,1293.9 844.0,1280.1 845.0,1294.3 846.0,1283.1 847.0,1294.1 848.0,1291.4 849.0,1290.6 850.0,1291.4 851.0,1289.4 852.0,1282.4 853.0,1291.7 854.0,1288.3 855.0,1289.5 856.0,1286.5 857.0,1285.6 858.0,1290.5 859.0,1290.3 860.0,1286.9 861.0,1280.2 862.0,1281.1 863.0,1280.5 864.0,1289.7 865.0,1286.7 866.0,1284.6 867.0,1283.4 868.0,1280.5 869.0,1287.2 870.0,1278.8 871.0,1279.4 872.0,1286.7 873.0,1285.5 874.0,1282.3 875.0,1276.8 876.0,1276.6 877.0,1285.7 878.0,1283.5 879.0,1288.2 880.0,1279.4 881.0,1280.9 882.0,1276.9 883.0,1288.2 884.0,1273.2 885.0,1283.2 886.0,1287.4 887.0,1275.8 888.0,1273.5 889.0,1275.2 890.0,1273.1 891.0,1280.7 892.0,1278.5 893.0,1274.7 894.0,1277.2 895.0,1285.0 896.0,1276.9 897.0,1276.0 898.0,1286.2 899.0,1273.4 900.0,1275.1 901.0,1283.5 902.0,1276.9 903.0,1268.0 904.0,1272.5 905.0,1266.1 906.0,1273.1 907.0,1277.2 908.0,1268.3 909.0,1282.3 910.0,1281.0 911.0,1278.8 912.0,1271.8 913.0,1275.0 914.0,1277.2 915.0,1278.9 916.0,1280.2 917.0,1264.8 918.0,1271.1 919.0,1269.0 920.0,1272.6 921.0,1275.0 922.0,1284.2 923.0,1273.5 924.0,1278.0 925.0,1274.4 926.0,1273.8 927.0,1281.7 928.0,1269.0 929.0,1277.1 930.0,1283.4 931.0,1289.5 932.0,1272.0 933.0,1270.2 934.0,1268.9 935.0,1272.8 936.0,1274.8 937.0,1275.0 938.0,1280.1 939.0,1273.8 940.0,1276.7 941.0,1268.0 942.0,1272.6 943.0,1275.0 944.0,1265.3 945.0,1276.5 946.0,1280.1 947.0,1276.7 948.0,1277.5 949.0,1276.7 950.0,1271.5 951.0,1277.3 952.0,1274.8 953.0,1277.9 954.0,1278.0 955.0,1278.5 956.0,1272.2 957.0,1278.1 958.0,1286.4 959.0,1283.1 960.0,1278.1 961.0,1276.1 962.0,1284.0 963.0,1279.8 964.0,1272.1 965.0,1278.3 966.0,1288.2 967.0,1273.3 968.0,1281.5 969.0,1278.1 970.0,1281.5 971.0,1280.3 972.0,1278.5 973.0,1271.2 974.0,1282.1 975.0,1283.6 976.0,1283.2 977.0,1279.3 978.0,1281.6 979.0,1294.7 980.0,1280.0 981.0,1283.9 982.0,1280.0 983.0,1284.9 984.0,1287.3 985.0,1291.9 986.0,1287.8 987.0,1287.0 988.0,1288.9 989.0,1290.1 990.0,1287.7 991.0,1288.0 992.0,1293.9 993.0,1285.4 994.0,1288.5 995.0,1285.0 996.0,1287.1 997.0,1296.3 998.0,1286.7 999.0,1292.4 1000.0,1299.9 1001.0,1293.0 1002.0,1290.2 1003.0,1287.7 1004.0,1280.0 1005.0,1287.4 1006.0,1287.8 1007.0,1296.4 1008.0,1295.5 1009.0,1286.8 1010.0,1295.7 1011.0,1290.3 1012.0,1301.6 1013.0,1300.3 1014.0,1296.9 1015.0,1292.4 1016.0,1302.4 1017.0,1298.7 1018.0,1300.3 1019.0,1297.8 1020.0,1294.5 1021.0,1299.5 1022.0,1292.5 1023.0,1300.1 1024.0,1297.6 1025.0,1289.6" fill="none" stroke="#ff6666" stroke-width="2.8" stroke-linejoin="round"/>
<path d="M246.0,1260.5 247.0,1260.4 248.0,1260.7 249.0,1252.2 250.0,1266.2 251.0,1256.6 252.0,1272.1 253.0,1272.7 254.0,1276.0 255.0,1278.7 256.0,1279.2 257.0,1278.3 258.0,1282.0 259.0,1292.2 260.0,1284.4 261.0,1287.1 262.0,1285.9 263.0,1287.7 264.0,1289.5 265.0,1292.6 266.0,1290.5 267.0,1290.4 268.0,1289.1 269.0,1292.0 270.0,1285.2 271.0,1290.8 272.0,1295.8 273.0,1285.8 274.0,1288.3 275.0,1300.3 276.0,1282.6 277.0,1279.0 278.0,1283.6 279.0,1292.7 280.0,1292.9 281.0,1277.5 282.0,1284.5 283.0,1281.0 284.0,1277.4 285.0,1270.3 286.0,1282.6 287.0,1273.1 288.0,1277.1 289.0,1274.9 290.0,1281.6 291.0,1277.3 292.0,1265.7 293.0,1268.6 294.0,1273.4 295.0,1262.0 296.0,1265.5 297.0,1267.6 298.0,1258.7 299.0,1259.7 300.0,1257.0 301.0,1265.4 302.0,1261.1 303.0,1267.4 304.0,1263.6 305.0,1265.6 306.0,1262.7 307.0,1266.7 308.0,1263.2 309.0,1259.8 310.0,1270.0 311.0,1269.7 312.0,1276.1 313.0,1266.1 314.0,1264.8 315.0,1261.5 316.0,1251.4 317.0,1263.5 318.0,1272.3 319.0,1267.0 320.0,1260.2 321.0,1275.3 322.0,1270.8 323.0,1272.6 324.0,1273.1 325.0,1275.1 326.0,1278.6 327.0,1269.5 328.0,1276.9 329.0,1276.4 330.0,1284.4 331.0,1275.4 332.0,1288.0 333.0,1284.1 334.0,1289.3 335.0,1279.5 336.0,1287.0 337.0,1285.7 338.0,1278.2 339.0,1284.4 340.0,1284.1 341.0,1282.3 342.0,1283.5 343.0,1280.6 344.0,1284.9 345.0,1288.4 346.0,1283.3 347.0,1279.6 348.0,1291.1 349.0,1284.6 350.0,1286.1 351.0,1284.7 352.0,1283.2 353.0,1288.1 354.0,1282.9 355.0,1285.2 356.0,1278.6 357.0,1277.7 358.0,1283.3 359.0,1293.8 360.0,1286.5 361.0,1294.7 362.0,1288.6 363.0,1289.2 364.0,1285.2 365.0,1288.4 366.0,1297.2 367.0,1295.1 368.0,1287.6 369.0,1288.8 370.0,1297.4 371.0,1289.5 372.0,1296.1 373.0,1288.1 374.0,1295.1 375.0,1299.3 376.0,1296.4 377.0,1293.9 378.0,1293.6 379.0,1292.7 380.0,1293.1 381.0,1298.6 382.0,1298.6 383.0,1295.4 384.0,1288.1 385.0,1291.4 386.0,1295.2 387.0,1294.1 388.0,1287.9 389.0,1296.9 390.0,1305.6 391.0,1288.5 392.0,1294.3 393.0,1301.2 394.0,1292.0 395.0,1292.0 396.0,1294.5 397.0,1296.2 398.0,1291.7 399.0,1297.8 400.0,1284.8 401.0,1296.1 402.0,1294.7 403.0,1292.2 404.0,1294.5 405.0,1292.9 406.0,1298.5 407.0,1290.4 408.0,1292.2 409.0,1286.0 410.0,1287.1 411.0,1291.0 412.0,1285.1 413.0,1288.2 414.0,1286.1 415.0,1289.8 416.0,1292.5 417.0,1296.2 418.0,1283.3 419.0,1291.1 420.0,1295.9 421.0,1298.2 422.0,1298.3 423.0,1285.6 424.0,1289.7 425.0,1294.5 426.0,1296.2 427.0,1293.3 428.0,1293.2 429.0,1293.1 430.0,1288.6 431.0,1292.7 432.0,1295.6 433.0,1290.5 434.0,1297.2 435.0,1279.3 436.0,1290.5 437.0,1299.6 438.0,1295.9 439.0,1298.4 440.0,1292.6 441.0,1286.7 442.0,1289.7 443.0,1298.7 444.0,1283.7 445.0,1287.6 446.0,1284.1 447.0,1289.3 448.0,1289.8 449.0,1294.2 450.0,1287.8 451.0,1299.1 452.0,1294.2 453.0,1289.1 454.0,1286.7 455.0,1284.4 456.0,1291.5 457.0,1299.7 458.0,1290.0 459.0,1286.0 460.0,1290.2 461.0,1288.0 462.0,1286.2 463.0,1281.6 464.0,1289.7 465.0,1296.4 466.0,1295.1 467.0,1293.9 468.0,1290.3 469.0,1291.3 470.0,1293.5 471.0,1288.6 472.0,1289.9 473.0,1286.6 474.0,1293.2 475.0,1283.7 476.0,1290.5 477.0,1290.9 478.0,1290.5 479.0,1289.5 480.0,1283.8 481.0,1283.0 482.0,1283.2 483.0,1282.9 484.0,1279.0 485.0,1281.6 486.0,1280.2 487.0,1278.3 488.0,1283.5 489.0,1277.8 490.0,1281.6 491.0,1286.3 492.0,1286.4 493.0,1278.1 494.0,1281.7 495.0,1277.4 496.0,1286.1 497.0,1281.9 498.0,1278.6 499.0,1272.0 500.0,1270.8 501.0,1273.5 502.0,1270.1 503.0,1268.4 504.0,1271.8 505.0,1262.4 506.0,1258.2 507.0,1261.8 508.0,1260.4 509.0,1264.5 510.0,1260.2 511.0,1262.4 512.0,1253.4 513.0,1268.2 514.0,1262.6 515.0,1256.1 516.0,1260.5 517.0,1263.7 518.0,1261.1 519.0,1256.1 520.0,1258.4 521.0,1258.8 522.0,1248.5 523.0,1246.6 524.0,1249.5 525.0,1255.6 526.0,1256.8 527.0,1249.8 528.0,1254.8 529.0,1251.3 530.0,1245.2 531.0,1240.7 532.0,1239.5 533.0,1240.7 534.0,1244.4 535.0,1239.4 536.0,1227.1 537.0,1224.7 538.0,1231.1 539.0,1225.6 540.0,1217.8 541.0,1222.4 542.0,1222.7 543.0,1217.2 544.0,1211.1 545.0,1213.8 546.0,1203.2 547.0,1199.7 548.0,1195.9 549.0,1206.6 550.0,1205.9 551.0,1194.4 552.0,1195.7 553.0,1193.5 554.0,1194.3 555.0,1194.2 556.0,1190.8 557.0,1186.4 558.0,1183.8 559.0,1180.9 560.0,1173.1 561.0,1183.9 562.0,1180.1 563.0,1183.6 564.0,1182.7 565.0,1178.5 566.0,1181.0 567.0,1185.6 568.0,1185.2 569.0,1181.5 570.0,1183.2 571.0,1190.4 572.0,1190.3 573.0,1192.1 574.0,1191.4 575.0,1197.0 576.0,1196.2 577.0,1209.4 578.0,1198.5 579.0,1200.1 580.0,1213.3 581.0,1208.2 582.0,1207.4 583.0,1215.0 584.0,1204.7 585.0,1219.2 586.0,1219.3 587.0,1222.4 588.0,1219.5 589.0,1230.7 590.0,1227.9 591.0,1227.8 592.0,1230.7 593.0,1226.3 594.0,1230.4 595.0,1225.1 596.0,1227.7 597.0,1234.6 598.0,1234.5 599.0,1238.0 600.0,1232.3 601.0,1235.4 602.0,1233.5 603.0,1238.4 604.0,1241.5 605.0,1243.6 606.0,1242.2 607.0,1237.0 608.0,1242.4 609.0,1237.8 610.0,1234.8 611.0,1245.1 612.0,1245.6 613.0,1249.5 614.0,1250.8 615.0,1242.5 616.0,1244.8 617.0,1249.7 618.0,1250.8 619.0,1253.0 620.0,1246.0 621.0,1251.3 622.0,1255.8 623.0,1261.9 624.0,1248.2 625.0,1261.5 626.0,1253.3 627.0,1248.5 628.0,1261.3 629.0,1250.9 630.0,1250.8 631.0,1259.5 632.0,1261.2 633.0,1257.2 634.0,1253.9 635.0,1250.8 636.0,1258.2 637.0,1247.5 638.0,1251.8 639.0,1263.3 640.0,1261.6 641.0,1264.6 642.0,1261.3 643.0,1254.7 644.0,1262.1 645.0,1252.2 646.0,1263.7 647.0,1266.9 648.0,1256.6 649.0,1265.9 650.0,1261.8 651.0,1261.2 652.0,1253.3 653.0,1261.7 654.0,1266.6 655.0,1255.4 656.0,1261.2 657.0,1260.5 658.0,1256.8 659.0,1269.1 660.0,1264.9 661.0,1265.4 662.0,1270.0 663.0,1262.8 664.0,1281.2 665.0,1265.1 666.0,1262.5 667.0,1271.1 668.0,1270.6 669.0,1265.3 670.0,1266.1 671.0,1274.5 672.0,1272.8 673.0,1274.0 674.0,1276.7 675.0,1270.7 676.0,1279.7 677.0,1274.8 678.0,1278.6 679.0,1271.9 680.0,1280.0 681.0,1278.6 682.0,1289.1 683.0,1278.2 684.0,1286.5 685.0,1283.4 686.0,1288.4 687.0,1283.3 688.0,1285.2 689.0,1274.0 690.0,1279.0 691.0,1290.0 692.0,1287.9 693.0,1290.1 694.0,1285.9 695.0,1291.0 696.0,1286.2 697.0,1287.8 698.0,1293.5 699.0,1292.9 700.0,1286.1 701.0,1288.3 702.0,1289.1 703.0,1287.5 704.0,1287.6 705.0,1283.9 706.0,1290.6 707.0,1283.4 708.0,1283.8 709.0,1293.7 710.0,1296.2 711.0,1296.3 712.0,1289.7 713.0,1285.7 714.0,1291.4 715.0,1295.0 716.0,1288.6 717.0,1286.3 718.0,1280.7 719.0,1280.6 720.0,1295.8 721.0,1281.7 722.0,1285.4 723.0,1287.2 724.0,1289.7 725.0,1283.0 726.0,1291.5 727.0,1291.7 728.0,1289.6 729.0,1286.8 730.0,1288.1 731.0,1281.3 732.0,1292.9 733.0,1288.0 734.0,1284.5 735.0,1290.6 736.0,1293.2 737.0,1292.8 738.0,1294.2 739.0,1297.0 740.0,1289.7 741.0,1293.2 742.0,1293.9 743.0,1286.6 744.0,1298.3 745.0,1292.4 746.0,1295.3 747.0,1295.9 748.0,1291.3 749.0,1299.0 750.0,1300.0 751.0,1296.7 752.0,1283.3 753.0,1302.6 754.0,1296.0 755.0,1294.0 756.0,1294.4 757.0,1292.4 758.0,1295.7 759.0,1300.2 760.0,1292.7 761.0,1298.7 762.0,1295.3 763.0,1296.9 764.0,1296.5 765.0,1299.7 766.0,1302.9 767.0,1298.5 768.0,1302.6 769.0,1305.3 770.0,1292.3 771.0,1302.3 772.0,1297.5 773.0,1298.1 774.0,1303.2 775.0,1297.9 776.0,1296.1 777.0,1304.5 778.0,1303.6 779.0,1300.8 780.0,1311.5 781.0,1294.6 782.0,1291.7 783.0,1298.0 784.0,1293.9 785.0,1300.6 786.0,1296.4 787.0,1296.3 788.0,1299.0 789.0,1295.2 790.0,1290.4 791.0,1295.8 792.0,1302.1 793.0,1300.0 794.0,1303.1 795.0,1306.5 796.0,1302.9 797.0,1298.7 798.0,1295.7 799.0,1301.1 800.0,1306.1 801.0,1305.3 802.0,1303.2 803.0,1295.4 804.0,1301.6 805.0,1302.2 806.0,1304.5 807.0,1293.4 808.0,1295.9 809.0,1299.6 810.0,1299.6 811.0,1296.3 812.0,1301.2 813.0,1297.7 814.0,1303.9 815.0,1296.8 816.0,1299.8 817.0,1289.5 818.0,1299.7 819.0,1295.7 820.0,1301.8 821.0,1297.7 822.0,1303.9 823.0,1295.9 824.0,1291.7 825.0,1299.1 826.0,1300.4 827.0,1294.4 828.0,1291.8 829.0,1300.7 830.0,1301.9 831.0,1300.3 832.0,1297.1 833.0,1296.2 834.0,1302.9 835.0,1298.5 836.0,1290.2 837.0,1288.8 838.0,1295.8 839.0,1295.7 840.0,1289.4 841.0,1288.6 842.0,1296.5 843.0,1291.3 844.0,1297.2 845.0,1289.6 846.0,1291.1 847.0,1288.9 848.0,1297.4 849.0,1296.5 850.0,1291.4 851.0,1299.7 852.0,1296.6 853.0,1297.8 854.0,1304.7 855.0,1302.5 856.0,1299.9 857.0,1295.7 858.0,1291.3 859.0,1293.1 860.0,1293.7 861.0,1300.4 862.0,1290.0 863.0,1291.1 864.0,1292.9 865.0,1294.1 866.0,1296.7 867.0,1297.3 868.0,1290.3 869.0,1299.2 870.0,1293.3 871.0,1286.5 872.0,1285.3 873.0,1287.5 874.0,1287.9 875.0,1292.3 876.0,1284.8 877.0,1285.6 878.0,1284.1 879.0,1288.8 880.0,1280.9 881.0,1289.6 882.0,1283.4 883.0,1285.7 884.0,1288.4 885.0,1287.6 886.0,1298.5 887.0,1281.9 888.0,1276.6 889.0,1279.8 890.0,1289.2 891.0,1280.6 892.0,1289.8 893.0,1284.1 894.0,1288.3 895.0,1278.0 896.0,1289.3 897.0,1289.7 898.0,1280.3 899.0,1290.2 900.0,1296.0 901.0,1284.2 902.0,1279.9 903.0,1281.4 904.0,1282.7 905.0,1288.5 906.0,1292.1 907.0,1282.2 908.0,1283.1 909.0,1278.0 910.0,1282.0 911.0,1286.6 912.0,1275.8 913.0,1288.1 914.0,1289.2 915.0,1290.9 916.0,1283.3 917.0,1279.1 918.0,1285.1 919.0,1282.0 920.0,1279.1 921.0,1283.8 922.0,1281.2 923.0,1296.2 924.0,1291.2 925.0,1291.9 926.0,1283.2 927.0,1294.4 928.0,1286.7 929.0,1292.3 930.0,1284.1 931.0,1291.5 932.0,1281.3 933.0,1288.1 934.0,1287.9 935.0,1283.0 936.0,1289.3 937.0,1286.7 938.0,1287.6 939.0,1292.7 940.0,1295.3 941.0,1288.8 942.0,1295.5 943.0,1294.3 944.0,1293.3 945.0,1297.2 946.0,1283.6 947.0,1296.3 948.0,1292.3 949.0,1289.0 950.0,1290.2 951.0,1295.6 952.0,1296.6 953.0,1294.6 954.0,1286.4 955.0,1285.3 956.0,1292.2 957.0,1295.0 958.0,1289.2 959.0,1296.4 960.0,1295.3 961.0,1294.9 962.0,1289.5 963.0,1298.6 964.0,1297.5 965.0,1299.3 966.0,1295.1 967.0,1287.9 968.0,1295.3 969.0,1297.6 970.0,1293.2 971.0,1288.8 972.0,1296.5 973.0,1296.9 974.0,1288.6 975.0,1291.0 976.0,1287.9 977.0,1295.9 978.0,1295.3 979.0,1302.4 980.0,1290.7 981.0,1300.8 982.0,1294.0 983.0,1296.4 984.0,1289.8 985.0,1295.6 986.0,1293.3 987.0,1295.4 988.0,1296.9 989.0,1298.5 990.0,1300.3 991.0,1296.7 992.0,1293.0 993.0,1301.8 994.0,1297.9 995.0,1295.0 996.0,1304.1 997.0,1299.5 998.0,1301.6 999.0,1291.1 1000.0,1296.1 1001.0,1308.0 1002.0,1301.4 1003.0,1301.5 1004.0,1296.4 1005.0,1299.1 1006.0,1301.6 1007.0,1299.8 1008.0,1299.8 1009.0,1292.6 1010.0,1297.1 1011.0,1298.8 1012.0,1303.5 1013.0,1303.4 1014.0,1301.2 1015.0,1298.2 1016.0,1298.4 1017.0,1302.9 1018.0,1295.9 1019.0,1301.1 1020.0,1300.8 1021.0,1301.2 1022.0,1309.9 1023.0,1302.0 1024.0,1306.6 1025.0,1310.0" fill="none" stroke="#00ff00" stroke-width="2.8" stroke-linejoin="round"/>
</g>
<line x1="414" y1="36.5" x2="414" y2="686" stroke="#777" stroke-width="1.2" stroke-dasharray="5,4.6"/>
<line x1="625.5" y1="36.5" x2="625.5" y2="686" stroke="#555" stroke-width="1" stroke-dasharray="5,4.6"/>
<g stroke="#000" stroke-width="2.2">
<line x1="223.60" y1="686.7" x2="223.60" y2="671.7"/>
<line x1="296.35" y1="686.7" x2="296.35" y2="679.2"/>
<line x1="369.10" y1="686.7" x2="369.10" y2="671.7"/>
<line x1="441.85" y1="686.7" x2="441.85" y2="679.2"/>
<line x1="514.60" y1="686.7" x2="514.60" y2="671.7"/>
<line x1="587.35" y1="686.7" x2="587.35" y2="679.2"/>
<line x1="660.10" y1="686.7" x2="660.10" y2="671.7"/>
<line x1="732.85" y1="686.7" x2="732.85" y2="679.2"/>
<line x1="805.60" y1="686.7" x2="805.60" y2="671.7"/>
<line x1="878.35" y1="686.7" x2="878.35" y2="679.2"/>
<line x1="951.10" y1="686.7" x2="951.10" y2="671.7"/>
<line x1="1023.85" y1="686.7" x2="1023.85" y2="679.2"/>
<line x1="223.60" y1="36.5" x2="223.60" y2="51.5"/>
<line x1="296.35" y1="36.5" x2="296.35" y2="44.0"/>
<line x1="369.10" y1="36.5" x2="369.10" y2="51.5"/>
<line x1="441.85" y1="36.5" x2="441.85" y2="44.0"/>
<line x1="514.60" y1="36.5" x2="514.60" y2="51.5"/>
<line x1="587.35" y1="36.5" x2="587.35" y2="44.0"/>
<line x1="660.10" y1="36.5" x2="660.10" y2="51.5"/>
<line x1="732.85" y1="36.5" x2="732.85" y2="44.0"/>
<line x1="805.60" y1="36.5" x2="805.60" y2="51.5"/>
<line x1="878.35" y1="36.5" x2="878.35" y2="44.0"/>
<line x1="951.10" y1="36.5" x2="951.10" y2="51.5"/>
<line x1="1023.85" y1="36.5" x2="1023.85" y2="44.0"/>
<line x1="225.60" y1="1334.4" x2="225.60" y2="1319.4"/>
<line x1="298.35" y1="1334.4" x2="298.35" y2="1326.9"/>
<line x1="371.10" y1="1334.4" x2="371.10" y2="1319.4"/>
<line x1="443.85" y1="1334.4" x2="443.85" y2="1326.9"/>
<line x1="516.60" y1="1334.4" x2="516.60" y2="1319.4"/>
<line x1="589.35" y1="1334.4" x2="589.35" y2="1326.9"/>
<line x1="662.10" y1="1334.4" x2="662.10" y2="1319.4"/>
<line x1="734.85" y1="1334.4" x2="734.85" y2="1326.9"/>
<line x1="807.60" y1="1334.4" x2="807.60" y2="1319.4"/>
<line x1="880.35" y1="1334.4" x2="880.35" y2="1326.9"/>
<line x1="953.10" y1="1334.4" x2="953.10" y2="1319.4"/>
<line x1="1025.85" y1="1334.4" x2="1025.85" y2="1326.9"/>
<line x1="223.6" y1="361.8" x2="230.6" y2="361.8"/>
<line x1="1024.1" y1="361.8" x2="1017.1" y2="361.8"/>
<line x1="225.6" y1="814.3" x2="240.6" y2="814.3"/>
<line x1="1025.4" y1="814.3" x2="1010.4" y2="814.3"/>
<line x1="225.6" y1="1074.3" x2="232.6" y2="1074.3"/>
<line x1="1025.4" y1="1074.3" x2="1018.4" y2="1074.3"/>
</g>
<g font-family="Liberation Sans" font-weight="bold" fill="#000">
<line x1="753.7" y1="103.0" x2="848" y2="103.0" stroke="#5c5c5c" stroke-width="2.6"/>
<text transform="translate(858.25,117.00) scale(1,1.025)" font-size="41.1">Ni/Si</text>
<line x1="753.7" y1="155.0" x2="848" y2="155.0" stroke="#00bbff" stroke-width="2.6"/>
<text transform="translate(858.25,168.90) scale(1,1.025)" font-size="41.1">Ni/MgSi</text>
<line x1="753.7" y1="207.0" x2="848" y2="207.0" stroke="#ff6666" stroke-width="2.6"/>
<text transform="translate(858.25,221.00) scale(1,1.025)" font-size="41.1">Ni/CeSi</text>
<line x1="753.7" y1="258.6" x2="848" y2="258.6" stroke="#00ff00" stroke-width="2.6"/>
<text transform="translate(858.25,273.30) scale(1,1.025)" font-size="41.1">Ni/LaSi</text>
<text transform="translate(274.50,216.90) scale(1,1.0)" font-size="41.0">weak</text>
<text transform="translate(437.00,219.70) scale(1,1.0)" font-size="41.07">medium</text>
<text transform="translate(731.65,392.90) scale(1,1.0)" font-size="41.2">strong</text>
<rect x="245.4" y="66" width="87.5" height="66" fill="#000"/>
<rect x="234.4" y="54.8" width="87" height="66.5" fill="#fff" stroke="#333" stroke-width="1"/>
<text transform="translate(239.70,98.90) scale(1,1.045)" font-size="41.35">CO</text>
<text transform="translate(300.70,110.00) scale(1,1.0)" font-size="28.5">2</text>
<rect x="272" y="768" width="72" height="58" fill="#000"/>
<rect x="260.9" y="756.5" width="72" height="58" fill="#fff" stroke="#333" stroke-width="1"/>
<text transform="translate(265.80,800.40) scale(1,1.045)" font-size="41.3">CO</text>
<path transform="translate(73.93,52.90) scale(0.02002,-0.02092)" d="M823,0 L823,1385 L603,1385 Q560,1282 433,1200 Q330,1105 172,1025 L172,800 Q330,850 433,918 Q500,960 548,1005 L548,0 Z"/>
<text transform="translate(96.73,52.90) scale(1,1.045)" font-size="41">×</text>
<path transform="translate(120.68,52.90) scale(0.02002,-0.02092)" d="M823,0 L823,1385 L603,1385 Q560,1282 433,1200 Q330,1105 172,1025 L172,800 Q330,850 433,918 Q500,960 548,1005 L548,0 Z"/>
<text transform="translate(143.48,52.90) scale(1,1.045)" font-size="41">0</text>
<text transform="translate(166.40,36.40) scale(1,1.05)" font-size="28">−</text>
<path transform="translate(182.75,36.40) scale(0.01367,-0.01436)" d="M823,0 L823,1385 L603,1385 Q560,1282 433,1200 Q330,1105 172,1025 L172,800 Q330,850 433,918 Q500,960 548,1005 L548,0 Z"/>
<text transform="translate(198.32,36.40) scale(1,1.05)" font-size="28">2</text>
<text transform="translate(184.20,699.40) scale(1,1.07)" font-size="40">0</text>
<text transform="translate(75.60,830.10) scale(1,1.045)" font-size="41.1">4×</text>
<path transform="translate(122.46,830.10) scale(0.02007,-0.02097)" d="M823,0 L823,1385 L603,1385 Q560,1282 433,1200 Q330,1105 172,1025 L172,800 Q330,850 433,918 Q500,960 548,1005 L548,0 Z"/>
<text transform="translate(145.32,830.10) scale(1,1.045)" font-size="41.1">0</text>
<text transform="translate(166.50,813.70) scale(1,1.05)" font-size="28">−</text>
<path transform="translate(182.85,813.70) scale(0.01367,-0.01436)" d="M823,0 L823,1385 L603,1385 Q560,1282 433,1200 Q330,1105 172,1025 L172,800 Q330,850 433,918 Q500,960 548,1005 L548,0 Z"/>
<text transform="translate(198.42,813.70) scale(1,1.05)" font-size="28">3</text>
<text transform="translate(186.40,1346.50) scale(1,1.035)" font-size="40.8">0</text>
<text transform="translate(213.34,732.60) scale(1,1.045)" font-size="36.9">0</text>
<text transform="translate(215.34,1380.90) scale(1,1.045)" font-size="36.9">0</text>
<text transform="translate(338.32,732.60) scale(1,1.045)" font-size="36.9">200</text>
<text transform="translate(340.32,1380.90) scale(1,1.045)" font-size="36.9">200</text>
<text transform="translate(483.82,732.60) scale(1,1.045)" font-size="36.9">400</text>
<text transform="translate(485.82,1380.90) scale(1,1.045)" font-size="36.9">400</text>
<text transform="translate(629.32,732.60) scale(1,1.045)" font-size="36.9">600</text>
<text transform="translate(631.32,1380.90) scale(1,1.045)" font-size="36.9">600</text>
<text transform="translate(774.82,732.60) scale(1,1.045)" font-size="36.9">800</text>
<text transform="translate(776.82,1380.90) scale(1,1.045)" font-size="36.9">800</text>
<path transform="translate(910.06,732.60) scale(0.01802,-0.01883)" d="M823,0 L823,1385 L603,1385 Q560,1282 433,1200 Q330,1105 172,1025 L172,800 Q330,850 433,918 Q500,960 548,1005 L548,0 Z"/>
<text transform="translate(930.58,732.60) scale(1,1.045)" font-size="36.9">000</text>
<path transform="translate(912.06,1380.90) scale(0.01802,-0.01883)" d="M823,0 L823,1385 L603,1385 Q560,1282 433,1200 Q330,1105 172,1025 L172,800 Q330,850 433,918 Q500,960 548,1005 L548,0 Z"/>
<text transform="translate(932.58,1380.90) scale(1,1.045)" font-size="36.9">000</text>
<text transform="translate(61.2,471.75) rotate(-90)" font-size="48.63">MS Signal (A)</text>
<text transform="translate(65.5,1197.55) rotate(-90)" font-size="48.63">MS Signal (A)</text>
<text transform="translate(444.10,1454.60) scale(1,1.03)" font-size="44.7">Temperature (</text>
<circle cx="751.65" cy="1430.8" r="5.65" fill="none" stroke="#000" stroke-width="2"/>
<text transform="translate(760.80,1454.60) scale(1,1.03)" font-size="44.7">C</text>
<text transform="translate(794.95,1454.60) scale(1,1.03)" font-size="44.7">)</text>
</g>
</svg>
</body></html>
